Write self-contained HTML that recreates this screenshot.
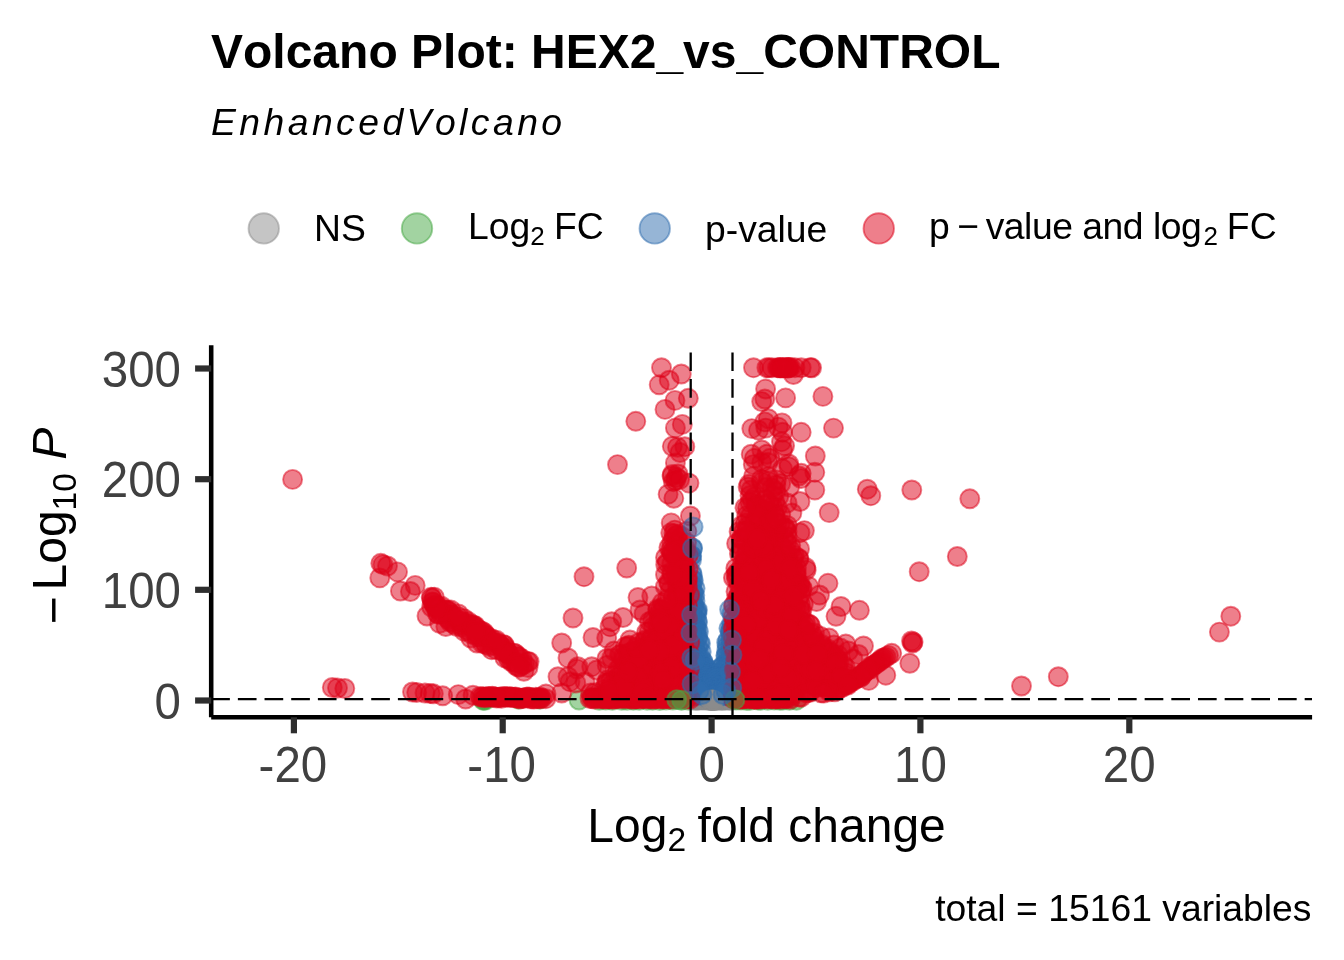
<!DOCTYPE html>
<html><head><meta charset="utf-8"><title>Volcano Plot: HEX2_vs_CONTROL</title>
<style>
html,body{margin:0;padding:0;background:#fff;}
body{width:1344px;height:960px;overflow:hidden;font-family:"Liberation Sans",Arial,Helvetica,sans-serif;}
svg{display:block;}
svg text{font-family:"Liberation Sans",Arial,Helvetica,sans-serif;font-kerning:none;}
.ax{fill:#404040;font-size:48px;}
.r{fill:rgba(221,0,24,.5);stroke:rgba(221,0,24,.5);stroke-width:1.9;}
.b{fill:rgba(46,108,173,.5);stroke:rgba(46,108,173,.5);stroke-width:1.9;}
.g{fill:rgba(70,168,68,.5);stroke:rgba(70,168,68,.5);stroke-width:1.9;}
.n{fill:rgba(140,140,140,.5);stroke:rgba(140,140,140,.5);stroke-width:1.9;}
</style></head>
<body>
<svg width="1344" height="960" viewBox="0 0 1344 960">
<rect width="1344" height="960" fill="#fff"/>
<!-- title -->
<text transform="translate(211,67.6) scale(1,1.015)" font-size="48" font-weight="bold" fill="#000">Volcano Plot: HEX2_vs_CONTROL</text>
<text transform="translate(211,135)" font-size="37.3" font-style="italic" fill="#000" letter-spacing="3.45">EnhancedVolcano</text>
<!-- legend -->
<g id="legend">
<circle class="n" cx="263.75" cy="228.4" r="15.2"/>
<circle class="g" cx="417" cy="228.4" r="15.2"/>
<circle class="b" cx="654.75" cy="228.4" r="15.2"/>
<circle class="r" cx="878.75" cy="228.4" r="15.2"/>
<text transform="translate(314,241.3)" font-size="37.3" fill="#000">NS</text>
<text transform="translate(468,238.7)" font-size="37.3" fill="#000">Log<tspan font-size="26" dy="6">2</tspan><tspan dy="-6" dx="-1"> FC</tspan></text>
<text transform="translate(705,241.5)" font-size="37.3" fill="#000">p-value</text>
<text transform="translate(0,238.7)" font-size="37.3" fill="#000"><tspan x="929">p</tspan><tspan x="957.3">−</tspan><tspan x="985.7" textLength="216" lengthAdjust="spacing">value and log</tspan><tspan x="1203.5" font-size="26" dy="6">2</tspan><tspan x="1216.5" dy="-6"> FC</tspan></text>
</g>
<g class="g"><circle cx="484.0" cy="700.0" r="9.5"/><circle cx="483.0" cy="700.2" r="9.5"/><circle cx="485.5" cy="700.0" r="9.5"/><circle cx="518.7" cy="699.2" r="9.5"/><circle cx="539.6" cy="699.2" r="9.5"/><circle cx="579.0" cy="700.0" r="9.5"/><circle cx="599.2" cy="700.4" r="9.5"/><circle cx="605.7" cy="700.0" r="9.5"/><circle cx="612.3" cy="700.3" r="9.5"/><circle cx="621.7" cy="700.4" r="9.5"/><circle cx="627.1" cy="700.3" r="9.5"/><circle cx="633.3" cy="700.2" r="9.5"/><circle cx="639.1" cy="700.4" r="9.5"/><circle cx="647.1" cy="700.2" r="9.5"/><circle cx="652.6" cy="700.2" r="9.5"/><circle cx="659.7" cy="700.5" r="9.5"/><circle cx="666.0" cy="700.1" r="9.5"/><circle cx="672.8" cy="700.0" r="9.5"/><circle cx="681.2" cy="699.9" r="9.5"/><circle cx="688.5" cy="700.3" r="9.5"/><circle cx="736.1" cy="700.1" r="9.5"/><circle cx="741.0" cy="700.1" r="9.5"/><circle cx="746.7" cy="700.5" r="9.5"/><circle cx="750.1" cy="700.3" r="9.5"/><circle cx="758.0" cy="700.0" r="9.5"/><circle cx="760.5" cy="700.2" r="9.5"/><circle cx="767.8" cy="700.3" r="9.5"/><circle cx="774.2" cy="700.1" r="9.5"/><circle cx="779.9" cy="700.3" r="9.5"/><circle cx="783.1" cy="700.0" r="9.5"/><circle cx="789.4" cy="700.4" r="9.5"/><circle cx="796.5" cy="700.2" r="9.5"/></g>
<g class="n"><circle cx="693.0" cy="700.1" r="9.5"/><circle cx="694.0" cy="699.5" r="9.5"/><circle cx="694.9" cy="699.8" r="9.5"/><circle cx="695.9" cy="700.2" r="9.5"/><circle cx="696.9" cy="699.4" r="9.5"/><circle cx="697.9" cy="700.1" r="9.5"/><circle cx="698.8" cy="700.1" r="9.5"/><circle cx="699.8" cy="699.7" r="9.5"/><circle cx="700.8" cy="699.4" r="9.5"/><circle cx="701.8" cy="699.7" r="9.5"/><circle cx="702.7" cy="699.7" r="9.5"/><circle cx="703.7" cy="700.1" r="9.5"/><circle cx="704.7" cy="699.5" r="9.5"/><circle cx="705.7" cy="699.6" r="9.5"/><circle cx="706.6" cy="700.1" r="9.5"/><circle cx="707.6" cy="699.4" r="9.5"/><circle cx="708.6" cy="700.0" r="9.5"/><circle cx="709.6" cy="699.8" r="9.5"/><circle cx="710.5" cy="699.7" r="9.5"/><circle cx="711.5" cy="699.8" r="9.5"/><circle cx="712.5" cy="699.7" r="9.5"/><circle cx="713.5" cy="700.2" r="9.5"/><circle cx="714.4" cy="700.3" r="9.5"/><circle cx="715.4" cy="700.0" r="9.5"/><circle cx="716.4" cy="700.1" r="9.5"/><circle cx="717.4" cy="700.2" r="9.5"/><circle cx="718.3" cy="699.5" r="9.5"/><circle cx="719.3" cy="699.9" r="9.5"/><circle cx="720.3" cy="699.4" r="9.5"/><circle cx="721.3" cy="700.2" r="9.5"/><circle cx="722.2" cy="700.3" r="9.5"/><circle cx="723.2" cy="699.5" r="9.5"/><circle cx="724.2" cy="699.8" r="9.5"/><circle cx="725.2" cy="700.0" r="9.5"/><circle cx="726.1" cy="699.9" r="9.5"/><circle cx="727.1" cy="699.5" r="9.5"/><circle cx="728.1" cy="699.8" r="9.5"/><circle cx="729.1" cy="699.7" r="9.5"/><circle cx="730.0" cy="700.0" r="9.5"/><circle cx="731.0" cy="700.3" r="9.5"/></g>
<g class="b"><circle cx="692.4" cy="548.5" r="9.5"/><circle cx="691.1" cy="555.5" r="9.5"/><circle cx="691.7" cy="555.9" r="9.5"/><circle cx="691.6" cy="559.8" r="9.5"/><circle cx="691.6" cy="572.6" r="9.5"/><circle cx="692.4" cy="575.1" r="9.5"/><circle cx="692.5" cy="579.5" r="9.5"/><circle cx="693.4" cy="580.4" r="9.5"/><circle cx="691.5" cy="584.3" r="9.5"/><circle cx="695.1" cy="588.3" r="9.5"/><circle cx="692.3" cy="589.3" r="9.5"/><circle cx="692.5" cy="593.7" r="9.5"/><circle cx="693.5" cy="592.9" r="9.5"/><circle cx="691.4" cy="597.1" r="9.5"/><circle cx="694.8" cy="595.3" r="9.5"/><circle cx="691.2" cy="599.1" r="9.5"/><circle cx="695.0" cy="601.1" r="9.5"/><circle cx="693.1" cy="602.2" r="9.5"/><circle cx="694.1" cy="606.5" r="9.5"/><circle cx="693.2" cy="607.8" r="9.5"/><circle cx="697.3" cy="609.7" r="9.5"/><circle cx="695.5" cy="611.7" r="9.5"/><circle cx="697.0" cy="610.8" r="9.5"/><circle cx="691.9" cy="614.4" r="9.5"/><circle cx="697.0" cy="613.4" r="9.5"/><circle cx="692.1" cy="618.3" r="9.5"/><circle cx="695.3" cy="619.2" r="9.5"/><circle cx="692.7" cy="619.9" r="9.5"/><circle cx="697.1" cy="621.0" r="9.5"/><circle cx="691.0" cy="622.4" r="9.5"/><circle cx="693.1" cy="625.1" r="9.5"/><circle cx="697.5" cy="622.4" r="9.5"/><circle cx="694.1" cy="627.9" r="9.5"/><circle cx="695.7" cy="625.5" r="9.5"/><circle cx="694.7" cy="630.9" r="9.5"/><circle cx="696.8" cy="628.8" r="9.5"/><circle cx="693.1" cy="631.2" r="9.5"/><circle cx="696.3" cy="632.4" r="9.5"/><circle cx="698.5" cy="631.4" r="9.5"/><circle cx="691.6" cy="635.8" r="9.5"/><circle cx="693.0" cy="637.5" r="9.5"/><circle cx="697.6" cy="637.0" r="9.5"/><circle cx="691.2" cy="640.3" r="9.5"/><circle cx="697.4" cy="638.3" r="9.5"/><circle cx="691.4" cy="643.5" r="9.5"/><circle cx="693.5" cy="642.0" r="9.5"/><circle cx="699.4" cy="643.0" r="9.5"/><circle cx="692.2" cy="644.7" r="9.5"/><circle cx="694.9" cy="645.1" r="9.5"/><circle cx="700.5" cy="643.4" r="9.5"/><circle cx="691.9" cy="646.6" r="9.5"/><circle cx="694.4" cy="646.9" r="9.5"/><circle cx="697.5" cy="646.8" r="9.5"/><circle cx="691.0" cy="650.5" r="9.5"/><circle cx="695.7" cy="652.0" r="9.5"/><circle cx="701.2" cy="652.0" r="9.5"/><circle cx="691.5" cy="655.0" r="9.5"/><circle cx="695.0" cy="653.6" r="9.5"/><circle cx="698.1" cy="655.4" r="9.5"/><circle cx="694.3" cy="658.1" r="9.5"/><circle cx="695.3" cy="657.1" r="9.5"/><circle cx="700.2" cy="656.4" r="9.5"/><circle cx="692.1" cy="660.0" r="9.5"/><circle cx="695.5" cy="660.4" r="9.5"/><circle cx="697.6" cy="658.8" r="9.5"/><circle cx="702.5" cy="660.7" r="9.5"/><circle cx="691.2" cy="662.0" r="9.5"/><circle cx="695.3" cy="663.7" r="9.5"/><circle cx="700.7" cy="663.1" r="9.5"/><circle cx="702.9" cy="662.0" r="9.5"/><circle cx="695.3" cy="666.2" r="9.5"/><circle cx="699.7" cy="665.8" r="9.5"/><circle cx="700.5" cy="665.5" r="9.5"/><circle cx="705.0" cy="666.0" r="9.5"/><circle cx="694.3" cy="669.6" r="9.5"/><circle cx="695.8" cy="668.2" r="9.5"/><circle cx="700.9" cy="667.9" r="9.5"/><circle cx="704.5" cy="667.7" r="9.5"/><circle cx="706.4" cy="668.3" r="9.5"/><circle cx="693.0" cy="673.9" r="9.5"/><circle cx="697.4" cy="670.7" r="9.5"/><circle cx="701.7" cy="671.0" r="9.5"/><circle cx="705.0" cy="673.4" r="9.5"/><circle cx="709.8" cy="672.1" r="9.5"/><circle cx="692.6" cy="674.4" r="9.5"/><circle cx="694.9" cy="675.8" r="9.5"/><circle cx="701.4" cy="674.5" r="9.5"/><circle cx="701.8" cy="674.0" r="9.5"/><circle cx="706.2" cy="674.9" r="9.5"/><circle cx="711.0" cy="674.3" r="9.5"/><circle cx="694.2" cy="678.2" r="9.5"/><circle cx="697.1" cy="679.8" r="9.5"/><circle cx="701.7" cy="679.7" r="9.5"/><circle cx="706.2" cy="677.0" r="9.5"/><circle cx="707.5" cy="678.4" r="9.5"/><circle cx="692.4" cy="681.1" r="9.5"/><circle cx="697.0" cy="681.4" r="9.5"/><circle cx="699.2" cy="682.6" r="9.5"/><circle cx="702.9" cy="682.9" r="9.5"/><circle cx="705.8" cy="681.6" r="9.5"/><circle cx="709.3" cy="682.7" r="9.5"/><circle cx="692.1" cy="684.0" r="9.5"/><circle cx="695.8" cy="684.0" r="9.5"/><circle cx="698.4" cy="684.7" r="9.5"/><circle cx="703.0" cy="684.1" r="9.5"/><circle cx="704.0" cy="685.2" r="9.5"/><circle cx="707.3" cy="686.0" r="9.5"/><circle cx="710.7" cy="685.2" r="9.5"/><circle cx="693.8" cy="687.2" r="9.5"/><circle cx="697.0" cy="688.8" r="9.5"/><circle cx="698.4" cy="687.4" r="9.5"/><circle cx="704.3" cy="686.9" r="9.5"/><circle cx="705.3" cy="686.7" r="9.5"/><circle cx="709.4" cy="686.4" r="9.5"/><circle cx="691.8" cy="689.2" r="9.5"/><circle cx="695.0" cy="688.8" r="9.5"/><circle cx="698.9" cy="689.6" r="9.5"/><circle cx="700.0" cy="691.8" r="9.5"/><circle cx="705.4" cy="690.8" r="9.5"/><circle cx="708.3" cy="690.3" r="9.5"/><circle cx="691.9" cy="693.5" r="9.5"/><circle cx="696.6" cy="693.1" r="9.5"/><circle cx="698.7" cy="695.0" r="9.5"/><circle cx="704.3" cy="692.1" r="9.5"/><circle cx="706.5" cy="695.0" r="9.5"/><circle cx="710.3" cy="694.5" r="9.5"/><circle cx="695.6" cy="695.7" r="9.5"/><circle cx="706.0" cy="696.9" r="9.5"/><circle cx="710.9" cy="695.6" r="9.5"/><circle cx="731.8" cy="613.6" r="9.5"/><circle cx="731.7" cy="623.7" r="9.5"/><circle cx="728.9" cy="628.3" r="9.5"/><circle cx="731.3" cy="627.4" r="9.5"/><circle cx="730.7" cy="631.5" r="9.5"/><circle cx="730.4" cy="631.7" r="9.5"/><circle cx="731.4" cy="634.8" r="9.5"/><circle cx="727.8" cy="640.2" r="9.5"/><circle cx="726.6" cy="642.6" r="9.5"/><circle cx="730.7" cy="640.7" r="9.5"/><circle cx="727.2" cy="646.1" r="9.5"/><circle cx="731.6" cy="646.2" r="9.5"/><circle cx="731.6" cy="648.7" r="9.5"/><circle cx="726.7" cy="650.7" r="9.5"/><circle cx="726.2" cy="655.6" r="9.5"/><circle cx="731.1" cy="652.7" r="9.5"/><circle cx="725.9" cy="656.0" r="9.5"/><circle cx="728.4" cy="656.6" r="9.5"/><circle cx="727.8" cy="661.6" r="9.5"/><circle cx="730.3" cy="662.0" r="9.5"/><circle cx="725.9" cy="663.9" r="9.5"/><circle cx="729.2" cy="665.0" r="9.5"/><circle cx="720.8" cy="668.2" r="9.5"/><circle cx="723.1" cy="665.2" r="9.5"/><circle cx="728.0" cy="665.9" r="9.5"/><circle cx="731.1" cy="666.4" r="9.5"/><circle cx="719.7" cy="668.7" r="9.5"/><circle cx="725.6" cy="669.3" r="9.5"/><circle cx="728.3" cy="668.8" r="9.5"/><circle cx="717.2" cy="673.3" r="9.5"/><circle cx="721.0" cy="671.1" r="9.5"/><circle cx="723.8" cy="671.1" r="9.5"/><circle cx="727.5" cy="674.1" r="9.5"/><circle cx="730.4" cy="673.9" r="9.5"/><circle cx="715.7" cy="677.0" r="9.5"/><circle cx="716.3" cy="677.0" r="9.5"/><circle cx="722.6" cy="677.2" r="9.5"/><circle cx="725.7" cy="674.6" r="9.5"/><circle cx="726.9" cy="676.1" r="9.5"/><circle cx="731.5" cy="674.0" r="9.5"/><circle cx="712.9" cy="678.1" r="9.5"/><circle cx="717.0" cy="678.7" r="9.5"/><circle cx="717.9" cy="678.2" r="9.5"/><circle cx="724.2" cy="677.6" r="9.5"/><circle cx="726.6" cy="677.7" r="9.5"/><circle cx="728.6" cy="678.6" r="9.5"/><circle cx="713.4" cy="682.4" r="9.5"/><circle cx="717.0" cy="681.7" r="9.5"/><circle cx="722.9" cy="681.1" r="9.5"/><circle cx="726.3" cy="681.8" r="9.5"/><circle cx="728.2" cy="683.4" r="9.5"/><circle cx="731.1" cy="680.2" r="9.5"/><circle cx="715.7" cy="685.7" r="9.5"/><circle cx="720.6" cy="686.3" r="9.5"/><circle cx="724.3" cy="685.1" r="9.5"/><circle cx="727.1" cy="683.9" r="9.5"/><circle cx="731.4" cy="684.6" r="9.5"/><circle cx="712.7" cy="688.0" r="9.5"/><circle cx="719.2" cy="686.3" r="9.5"/><circle cx="722.2" cy="688.2" r="9.5"/><circle cx="726.4" cy="686.3" r="9.5"/><circle cx="726.9" cy="686.9" r="9.5"/><circle cx="730.2" cy="688.7" r="9.5"/><circle cx="713.5" cy="691.2" r="9.5"/><circle cx="717.0" cy="692.3" r="9.5"/><circle cx="718.1" cy="690.6" r="9.5"/><circle cx="722.8" cy="690.0" r="9.5"/><circle cx="727.8" cy="691.7" r="9.5"/><circle cx="728.4" cy="690.8" r="9.5"/><circle cx="715.0" cy="695.2" r="9.5"/><circle cx="719.0" cy="693.2" r="9.5"/><circle cx="721.7" cy="694.0" r="9.5"/><circle cx="725.8" cy="693.7" r="9.5"/><circle cx="729.6" cy="693.9" r="9.5"/><circle cx="732.3" cy="695.1" r="9.5"/><circle cx="712.9" cy="695.7" r="9.5"/><circle cx="719.4" cy="695.3" r="9.5"/><circle cx="723.3" cy="695.7" r="9.5"/><circle cx="726.2" cy="695.6" r="9.5"/></g>
<g class="r"><circle cx="778.6" cy="534.8" r="9.5"/><circle cx="521.6" cy="698.1" r="9.5"/><circle cx="761.7" cy="450.0" r="9.5"/><circle cx="684.2" cy="647.8" r="9.5"/><circle cx="764.0" cy="510.7" r="9.5"/><circle cx="638.0" cy="597.5" r="9.5"/><circle cx="671.3" cy="607.0" r="9.5"/><circle cx="669.2" cy="380.2" r="9.5"/><circle cx="678.8" cy="677.2" r="9.5"/><circle cx="757.5" cy="620.3" r="9.5"/><circle cx="770.2" cy="596.6" r="9.5"/><circle cx="752.1" cy="499.9" r="9.5"/><circle cx="619.4" cy="654.4" r="9.5"/><circle cx="337.5" cy="688.0" r="9.5"/><circle cx="656.3" cy="666.2" r="9.5"/><circle cx="660.1" cy="691.0" r="9.5"/><circle cx="651.7" cy="596.0" r="9.5"/><circle cx="825.0" cy="668.2" r="9.5"/><circle cx="778.1" cy="564.2" r="9.5"/><circle cx="690.4" cy="516.0" r="9.5"/><circle cx="770.0" cy="458.3" r="9.5"/><circle cx="615.8" cy="690.4" r="9.5"/><circle cx="660.1" cy="635.3" r="9.5"/><circle cx="790.5" cy="699.1" r="9.5"/><circle cx="750.8" cy="548.7" r="9.5"/><circle cx="490.8" cy="697.6" r="9.5"/><circle cx="783.3" cy="698.3" r="9.5"/><circle cx="668.9" cy="547.5" r="9.5"/><circle cx="736.1" cy="575.0" r="9.5"/><circle cx="819.6" cy="670.9" r="9.5"/><circle cx="760.5" cy="565.2" r="9.5"/><circle cx="672.5" cy="690.2" r="9.5"/><circle cx="597.8" cy="698.1" r="9.5"/><circle cx="832.4" cy="656.9" r="9.5"/><circle cx="427.0" cy="616.0" r="9.5"/><circle cx="753.3" cy="464.6" r="9.5"/><circle cx="680.2" cy="574.0" r="9.5"/><circle cx="791.2" cy="642.7" r="9.5"/><circle cx="742.6" cy="562.8" r="9.5"/><circle cx="797.4" cy="682.0" r="9.5"/><circle cx="786.3" cy="594.6" r="9.5"/><circle cx="674.3" cy="663.6" r="9.5"/><circle cx="784.0" cy="538.4" r="9.5"/><circle cx="615.6" cy="698.3" r="9.5"/><circle cx="911.5" cy="641.0" r="9.5"/><circle cx="786.7" cy="698.2" r="9.5"/><circle cx="668.9" cy="640.0" r="9.5"/><circle cx="666.9" cy="692.3" r="9.5"/><circle cx="641.7" cy="698.5" r="9.5"/><circle cx="756.1" cy="504.5" r="9.5"/><circle cx="761.7" cy="401.6" r="9.5"/><circle cx="751.3" cy="671.5" r="9.5"/><circle cx="747.9" cy="526.4" r="9.5"/><circle cx="743.3" cy="584.4" r="9.5"/><circle cx="734.3" cy="669.7" r="9.5"/><circle cx="780.3" cy="571.2" r="9.5"/><circle cx="805.8" cy="692.1" r="9.5"/><circle cx="450.7" cy="614.5" r="9.5"/><circle cx="679.7" cy="614.3" r="9.5"/><circle cx="741.4" cy="613.4" r="9.5"/><circle cx="662.4" cy="610.8" r="9.5"/><circle cx="683.5" cy="641.8" r="9.5"/><circle cx="1219.4" cy="632.1" r="9.5"/><circle cx="689.8" cy="642.6" r="9.5"/><circle cx="769.4" cy="618.0" r="9.5"/><circle cx="865.4" cy="671.6" r="9.5"/><circle cx="774.1" cy="539.2" r="9.5"/><circle cx="804.4" cy="530.6" r="9.5"/><circle cx="590.6" cy="693.0" r="9.5"/><circle cx="758.8" cy="524.1" r="9.5"/><circle cx="431.8" cy="598.3" r="9.5"/><circle cx="830.2" cy="652.0" r="9.5"/><circle cx="658.7" cy="614.5" r="9.5"/><circle cx="767.6" cy="584.4" r="9.5"/><circle cx="626.5" cy="698.1" r="9.5"/><circle cx="768.9" cy="530.7" r="9.5"/><circle cx="451.9" cy="621.6" r="9.5"/><circle cx="756.6" cy="673.4" r="9.5"/><circle cx="678.9" cy="567.5" r="9.5"/><circle cx="813.4" cy="679.8" r="9.5"/><circle cx="857.9" cy="677.5" r="9.5"/><circle cx="738.9" cy="627.9" r="9.5"/><circle cx="771.7" cy="690.3" r="9.5"/><circle cx="743.6" cy="667.1" r="9.5"/><circle cx="746.7" cy="515.6" r="9.5"/><circle cx="573.0" cy="618.0" r="9.5"/><circle cx="736.9" cy="572.9" r="9.5"/><circle cx="770.4" cy="667.0" r="9.5"/><circle cx="781.3" cy="659.8" r="9.5"/><circle cx="665.5" cy="557.5" r="9.5"/><circle cx="446.3" cy="610.3" r="9.5"/><circle cx="785.4" cy="626.7" r="9.5"/><circle cx="683.7" cy="597.3" r="9.5"/><circle cx="435.0" cy="606.6" r="9.5"/><circle cx="801.3" cy="697.2" r="9.5"/><circle cx="782.1" cy="577.1" r="9.5"/><circle cx="673.3" cy="481.7" r="9.5"/><circle cx="782.0" cy="422.9" r="9.5"/><circle cx="687.7" cy="619.0" r="9.5"/><circle cx="752.7" cy="595.1" r="9.5"/><circle cx="837.8" cy="659.7" r="9.5"/><circle cx="809.2" cy="676.0" r="9.5"/><circle cx="671.0" cy="639.0" r="9.5"/><circle cx="787.1" cy="641.8" r="9.5"/><circle cx="771.4" cy="629.2" r="9.5"/><circle cx="542.0" cy="698.3" r="9.5"/><circle cx="769.6" cy="694.1" r="9.5"/><circle cx="744.5" cy="571.5" r="9.5"/><circle cx="633.9" cy="698.9" r="9.5"/><circle cx="772.1" cy="571.2" r="9.5"/><circle cx="464.3" cy="631.4" r="9.5"/><circle cx="673.7" cy="538.9" r="9.5"/><circle cx="658.2" cy="697.0" r="9.5"/><circle cx="757.1" cy="573.1" r="9.5"/><circle cx="614.4" cy="698.9" r="9.5"/><circle cx="689.4" cy="669.0" r="9.5"/><circle cx="447.9" cy="610.2" r="9.5"/><circle cx="733.2" cy="628.2" r="9.5"/><circle cx="652.7" cy="619.9" r="9.5"/><circle cx="760.5" cy="698.8" r="9.5"/><circle cx="620.0" cy="698.4" r="9.5"/><circle cx="758.2" cy="594.5" r="9.5"/><circle cx="674.6" cy="620.3" r="9.5"/><circle cx="747.8" cy="587.2" r="9.5"/><circle cx="870.9" cy="666.2" r="9.5"/><circle cx="766.5" cy="572.1" r="9.5"/><circle cx="615.6" cy="675.3" r="9.5"/><circle cx="437.0" cy="606.0" r="9.5"/><circle cx="774.7" cy="585.7" r="9.5"/><circle cx="503.1" cy="696.8" r="9.5"/><circle cx="919.2" cy="571.7" r="9.5"/><circle cx="627.7" cy="653.5" r="9.5"/><circle cx="506.2" cy="697.0" r="9.5"/><circle cx="757.9" cy="644.4" r="9.5"/><circle cx="670.4" cy="628.2" r="9.5"/><circle cx="679.0" cy="648.0" r="9.5"/><circle cx="829.2" cy="512.6" r="9.5"/><circle cx="801.2" cy="638.1" r="9.5"/><circle cx="477.0" cy="636.5" r="9.5"/><circle cx="680.0" cy="631.6" r="9.5"/><circle cx="816.5" cy="601.5" r="9.5"/><circle cx="651.2" cy="656.2" r="9.5"/><circle cx="594.7" cy="692.8" r="9.5"/><circle cx="756.4" cy="629.0" r="9.5"/><circle cx="690.4" cy="698.8" r="9.5"/><circle cx="665.4" cy="586.7" r="9.5"/><circle cx="655.4" cy="685.8" r="9.5"/><circle cx="681.4" cy="561.6" r="9.5"/><circle cx="738.2" cy="688.2" r="9.5"/><circle cx="660.9" cy="617.8" r="9.5"/><circle cx="771.7" cy="611.4" r="9.5"/><circle cx="677.9" cy="600.5" r="9.5"/><circle cx="508.5" cy="659.1" r="9.5"/><circle cx="773.6" cy="519.4" r="9.5"/><circle cx="509.3" cy="696.7" r="9.5"/><circle cx="761.2" cy="630.7" r="9.5"/><circle cx="657.5" cy="635.6" r="9.5"/><circle cx="760.0" cy="693.4" r="9.5"/><circle cx="468.0" cy="621.4" r="9.5"/><circle cx="448.8" cy="619.6" r="9.5"/><circle cx="501.2" cy="646.2" r="9.5"/><circle cx="786.7" cy="625.0" r="9.5"/><circle cx="662.3" cy="698.2" r="9.5"/><circle cx="630.1" cy="698.2" r="9.5"/><circle cx="387.5" cy="566.0" r="9.5"/><circle cx="670.7" cy="684.7" r="9.5"/><circle cx="786.0" cy="367.4" r="9.5"/><circle cx="505.6" cy="648.3" r="9.5"/><circle cx="629.1" cy="688.0" r="9.5"/><circle cx="772.5" cy="643.6" r="9.5"/><circle cx="475.3" cy="625.8" r="9.5"/><circle cx="838.0" cy="655.0" r="9.5"/><circle cx="622.4" cy="698.6" r="9.5"/><circle cx="686.6" cy="542.6" r="9.5"/><circle cx="745.4" cy="523.1" r="9.5"/><circle cx="788.2" cy="572.5" r="9.5"/><circle cx="522.1" cy="659.0" r="9.5"/><circle cx="623.0" cy="617.5" r="9.5"/><circle cx="815.6" cy="644.1" r="9.5"/><circle cx="748.2" cy="620.7" r="9.5"/><circle cx="766.9" cy="658.4" r="9.5"/><circle cx="500.0" cy="696.9" r="9.5"/><circle cx="786.2" cy="580.3" r="9.5"/><circle cx="787.7" cy="558.9" r="9.5"/><circle cx="751.8" cy="542.1" r="9.5"/><circle cx="749.2" cy="598.9" r="9.5"/><circle cx="744.5" cy="631.8" r="9.5"/><circle cx="801.8" cy="610.9" r="9.5"/><circle cx="665.1" cy="672.5" r="9.5"/><circle cx="866.9" cy="670.4" r="9.5"/><circle cx="637.1" cy="676.6" r="9.5"/><circle cx="669.2" cy="648.9" r="9.5"/><circle cx="767.3" cy="698.9" r="9.5"/><circle cx="761.0" cy="521.0" r="9.5"/><circle cx="801.2" cy="473.3" r="9.5"/><circle cx="794.4" cy="615.6" r="9.5"/><circle cx="804.3" cy="625.3" r="9.5"/><circle cx="745.2" cy="672.9" r="9.5"/><circle cx="856.3" cy="678.3" r="9.5"/><circle cx="465.8" cy="622.6" r="9.5"/><circle cx="786.3" cy="550.7" r="9.5"/><circle cx="627.6" cy="698.5" r="9.5"/><circle cx="676.1" cy="573.2" r="9.5"/><circle cx="756.6" cy="539.2" r="9.5"/><circle cx="752.2" cy="594.0" r="9.5"/><circle cx="854.9" cy="679.6" r="9.5"/><circle cx="757.7" cy="585.4" r="9.5"/><circle cx="607.4" cy="682.5" r="9.5"/><circle cx="677.7" cy="636.3" r="9.5"/><circle cx="750.1" cy="566.4" r="9.5"/><circle cx="763.5" cy="677.9" r="9.5"/><circle cx="761.4" cy="648.8" r="9.5"/><circle cx="659.2" cy="655.6" r="9.5"/><circle cx="640.4" cy="698.8" r="9.5"/><circle cx="796.9" cy="650.7" r="9.5"/><circle cx="767.8" cy="561.8" r="9.5"/><circle cx="738.5" cy="595.3" r="9.5"/><circle cx="561.7" cy="643.0" r="9.5"/><circle cx="470.8" cy="638.0" r="9.5"/><circle cx="500.0" cy="645.8" r="9.5"/><circle cx="798.6" cy="558.8" r="9.5"/><circle cx="675.6" cy="640.2" r="9.5"/><circle cx="431.6" cy="607.0" r="9.5"/><circle cx="741.8" cy="525.4" r="9.5"/><circle cx="664.7" cy="662.6" r="9.5"/><circle cx="681.3" cy="601.8" r="9.5"/><circle cx="812.3" cy="664.2" r="9.5"/><circle cx="812.1" cy="674.8" r="9.5"/><circle cx="748.7" cy="534.5" r="9.5"/><circle cx="823.1" cy="658.3" r="9.5"/><circle cx="642.3" cy="651.5" r="9.5"/><circle cx="848.1" cy="682.9" r="9.5"/><circle cx="733.3" cy="616.7" r="9.5"/><circle cx="826.9" cy="650.8" r="9.5"/><circle cx="774.9" cy="545.7" r="9.5"/><circle cx="784.6" cy="445.8" r="9.5"/><circle cx="596.7" cy="670.0" r="9.5"/><circle cx="739.7" cy="606.4" r="9.5"/><circle cx="686.7" cy="636.1" r="9.5"/><circle cx="780.0" cy="589.8" r="9.5"/><circle cx="804.9" cy="682.1" r="9.5"/><circle cx="662.8" cy="632.6" r="9.5"/><circle cx="663.8" cy="606.9" r="9.5"/><circle cx="780.6" cy="627.0" r="9.5"/><circle cx="665.7" cy="564.7" r="9.5"/><circle cx="683.4" cy="675.0" r="9.5"/><circle cx="758.5" cy="430.2" r="9.5"/><circle cx="772.6" cy="506.8" r="9.5"/><circle cx="747.3" cy="614.6" r="9.5"/><circle cx="568.0" cy="676.7" r="9.5"/><circle cx="646.4" cy="670.1" r="9.5"/><circle cx="670.3" cy="669.7" r="9.5"/><circle cx="793.8" cy="654.7" r="9.5"/><circle cx="793.1" cy="557.8" r="9.5"/><circle cx="568.0" cy="658.0" r="9.5"/><circle cx="665.5" cy="574.7" r="9.5"/><circle cx="670.5" cy="658.1" r="9.5"/><circle cx="796.4" cy="576.9" r="9.5"/><circle cx="759.0" cy="606.7" r="9.5"/><circle cx="461.4" cy="624.8" r="9.5"/><circle cx="665.6" cy="698.3" r="9.5"/><circle cx="912.5" cy="643.0" r="9.5"/><circle cx="787.4" cy="368.0" r="9.5"/><circle cx="877.5" cy="662.2" r="9.5"/><circle cx="843.1" cy="665.0" r="9.5"/><circle cx="682.5" cy="691.1" r="9.5"/><circle cx="509.5" cy="655.6" r="9.5"/><circle cx="765.0" cy="500.7" r="9.5"/><circle cx="758.3" cy="582.4" r="9.5"/><circle cx="754.6" cy="581.8" r="9.5"/><circle cx="794.4" cy="555.4" r="9.5"/><circle cx="467.4" cy="624.5" r="9.5"/><circle cx="842.5" cy="684.7" r="9.5"/><circle cx="600.3" cy="698.7" r="9.5"/><circle cx="767.5" cy="594.0" r="9.5"/><circle cx="800.5" cy="613.4" r="9.5"/><circle cx="790.1" cy="676.4" r="9.5"/><circle cx="628.7" cy="659.7" r="9.5"/><circle cx="683.5" cy="565.8" r="9.5"/><circle cx="792.5" cy="588.3" r="9.5"/><circle cx="828.0" cy="583.3" r="9.5"/><circle cx="575.8" cy="683.0" r="9.5"/><circle cx="441.6" cy="606.2" r="9.5"/><circle cx="650.2" cy="698.3" r="9.5"/><circle cx="782.4" cy="367.9" r="9.5"/><circle cx="680.6" cy="549.5" r="9.5"/><circle cx="790.9" cy="623.4" r="9.5"/><circle cx="741.2" cy="588.3" r="9.5"/><circle cx="664.7" cy="634.4" r="9.5"/><circle cx="742.9" cy="548.7" r="9.5"/><circle cx="736.8" cy="598.6" r="9.5"/><circle cx="669.3" cy="696.5" r="9.5"/><circle cx="769.5" cy="582.0" r="9.5"/><circle cx="783.0" cy="592.2" r="9.5"/><circle cx="750.3" cy="554.0" r="9.5"/><circle cx="665.7" cy="614.9" r="9.5"/><circle cx="485.5" cy="634.7" r="9.5"/><circle cx="760.3" cy="553.9" r="9.5"/><circle cx="537.3" cy="698.5" r="9.5"/><circle cx="680.3" cy="668.8" r="9.5"/><circle cx="735.5" cy="629.9" r="9.5"/><circle cx="518.4" cy="698.5" r="9.5"/><circle cx="677.2" cy="583.1" r="9.5"/><circle cx="798.9" cy="558.5" r="9.5"/><circle cx="610.7" cy="681.3" r="9.5"/><circle cx="777.4" cy="689.9" r="9.5"/><circle cx="739.6" cy="570.3" r="9.5"/><circle cx="776.4" cy="479.9" r="9.5"/><circle cx="680.1" cy="698.5" r="9.5"/><circle cx="789.6" cy="487.1" r="9.5"/><circle cx="482.6" cy="643.5" r="9.5"/><circle cx="806.5" cy="692.9" r="9.5"/><circle cx="661.6" cy="659.2" r="9.5"/><circle cx="846.5" cy="673.1" r="9.5"/><circle cx="614.1" cy="651.0" r="9.5"/><circle cx="632.1" cy="699.0" r="9.5"/><circle cx="670.0" cy="699.1" r="9.5"/><circle cx="767.9" cy="645.1" r="9.5"/><circle cx="770.8" cy="659.7" r="9.5"/><circle cx="638.0" cy="655.2" r="9.5"/><circle cx="415.2" cy="585.4" r="9.5"/><circle cx="810.4" cy="625.3" r="9.5"/><circle cx="466.7" cy="630.0" r="9.5"/><circle cx="834.9" cy="684.4" r="9.5"/><circle cx="591.7" cy="666.7" r="9.5"/><circle cx="746.6" cy="635.7" r="9.5"/><circle cx="616.7" cy="696.3" r="9.5"/><circle cx="738.6" cy="698.5" r="9.5"/><circle cx="801.2" cy="367.7" r="9.5"/><circle cx="503.6" cy="644.6" r="9.5"/><circle cx="667.4" cy="562.6" r="9.5"/><circle cx="779.4" cy="542.0" r="9.5"/><circle cx="773.8" cy="653.3" r="9.5"/><circle cx="604.4" cy="698.9" r="9.5"/><circle cx="787.7" cy="614.3" r="9.5"/><circle cx="763.4" cy="605.9" r="9.5"/><circle cx="636.8" cy="697.3" r="9.5"/><circle cx="782.4" cy="551.1" r="9.5"/><circle cx="790.5" cy="367.4" r="9.5"/><circle cx="642.0" cy="648.5" r="9.5"/><circle cx="658.6" cy="628.1" r="9.5"/><circle cx="843.1" cy="685.5" r="9.5"/><circle cx="479.5" cy="630.4" r="9.5"/><circle cx="675.1" cy="692.0" r="9.5"/><circle cx="759.5" cy="509.1" r="9.5"/><circle cx="768.0" cy="511.2" r="9.5"/><circle cx="782.5" cy="605.5" r="9.5"/><circle cx="736.2" cy="677.6" r="9.5"/><circle cx="750.2" cy="563.5" r="9.5"/><circle cx="734.3" cy="620.7" r="9.5"/><circle cx="736.1" cy="670.3" r="9.5"/><circle cx="631.9" cy="680.6" r="9.5"/><circle cx="752.2" cy="638.8" r="9.5"/><circle cx="765.1" cy="544.5" r="9.5"/><circle cx="782.0" cy="648.7" r="9.5"/><circle cx="769.3" cy="674.8" r="9.5"/><circle cx="491.8" cy="644.9" r="9.5"/><circle cx="790.5" cy="550.3" r="9.5"/><circle cx="786.0" cy="602.4" r="9.5"/><circle cx="833.3" cy="663.3" r="9.5"/><circle cx="743.8" cy="531.3" r="9.5"/><circle cx="678.0" cy="659.3" r="9.5"/><circle cx="879.6" cy="661.7" r="9.5"/><circle cx="798.9" cy="626.9" r="9.5"/><circle cx="813.0" cy="684.8" r="9.5"/><circle cx="504.9" cy="657.9" r="9.5"/><circle cx="750.5" cy="694.5" r="9.5"/><circle cx="838.9" cy="662.5" r="9.5"/><circle cx="810.2" cy="367.6" r="9.5"/><circle cx="603.8" cy="689.4" r="9.5"/><circle cx="660.4" cy="609.3" r="9.5"/><circle cx="675.5" cy="671.2" r="9.5"/><circle cx="737.3" cy="657.4" r="9.5"/><circle cx="531.0" cy="698.9" r="9.5"/><circle cx="772.6" cy="698.9" r="9.5"/><circle cx="611.7" cy="684.6" r="9.5"/><circle cx="487.7" cy="696.7" r="9.5"/><circle cx="761.5" cy="636.7" r="9.5"/><circle cx="787.2" cy="582.9" r="9.5"/><circle cx="761.9" cy="590.7" r="9.5"/><circle cx="800.2" cy="667.5" r="9.5"/><circle cx="876.3" cy="663.8" r="9.5"/><circle cx="671.7" cy="571.9" r="9.5"/><circle cx="762.6" cy="687.5" r="9.5"/><circle cx="798.1" cy="599.2" r="9.5"/><circle cx="913.1" cy="641.9" r="9.5"/><circle cx="784.5" cy="691.9" r="9.5"/><circle cx="658.0" cy="653.5" r="9.5"/><circle cx="674.0" cy="630.8" r="9.5"/><circle cx="764.7" cy="532.8" r="9.5"/><circle cx="868.8" cy="680.4" r="9.5"/><circle cx="739.7" cy="698.9" r="9.5"/><circle cx="754.7" cy="699.1" r="9.5"/><circle cx="779.9" cy="643.9" r="9.5"/><circle cx="673.9" cy="533.6" r="9.5"/><circle cx="687.3" cy="630.6" r="9.5"/><circle cx="800.0" cy="501.5" r="9.5"/><circle cx="623.4" cy="656.7" r="9.5"/><circle cx="400.4" cy="591.0" r="9.5"/><circle cx="783.5" cy="599.2" r="9.5"/><circle cx="618.5" cy="698.6" r="9.5"/><circle cx="750.9" cy="683.6" r="9.5"/><circle cx="643.1" cy="695.0" r="9.5"/><circle cx="687.5" cy="586.2" r="9.5"/><circle cx="801.7" cy="588.7" r="9.5"/><circle cx="672.0" cy="476.0" r="9.5"/><circle cx="432.3" cy="601.9" r="9.5"/><circle cx="780.8" cy="680.1" r="9.5"/><circle cx="774.2" cy="594.9" r="9.5"/><circle cx="777.2" cy="618.7" r="9.5"/><circle cx="640.0" cy="610.0" r="9.5"/><circle cx="738.9" cy="635.7" r="9.5"/><circle cx="836.0" cy="616.3" r="9.5"/><circle cx="787.1" cy="531.7" r="9.5"/><circle cx="743.2" cy="679.1" r="9.5"/><circle cx="795.3" cy="683.7" r="9.5"/><circle cx="746.9" cy="552.3" r="9.5"/><circle cx="742.6" cy="552.9" r="9.5"/><circle cx="653.9" cy="678.2" r="9.5"/><circle cx="766.9" cy="454.2" r="9.5"/><circle cx="675.5" cy="480.5" r="9.5"/><circle cx="768.1" cy="518.0" r="9.5"/><circle cx="688.3" cy="569.0" r="9.5"/><circle cx="766.8" cy="688.8" r="9.5"/><circle cx="676.8" cy="682.3" r="9.5"/><circle cx="585.0" cy="681.7" r="9.5"/><circle cx="681.5" cy="536.2" r="9.5"/><circle cx="797.1" cy="666.4" r="9.5"/><circle cx="638.9" cy="642.7" r="9.5"/><circle cx="802.6" cy="682.7" r="9.5"/><circle cx="808.4" cy="666.0" r="9.5"/><circle cx="735.5" cy="678.8" r="9.5"/><circle cx="736.6" cy="578.9" r="9.5"/><circle cx="784.5" cy="528.0" r="9.5"/><circle cx="759.5" cy="525.9" r="9.5"/><circle cx="540.0" cy="697.0" r="9.5"/><circle cx="810.1" cy="692.3" r="9.5"/><circle cx="775.9" cy="485.1" r="9.5"/><circle cx="791.5" cy="599.4" r="9.5"/><circle cx="645.2" cy="639.9" r="9.5"/><circle cx="675.7" cy="673.8" r="9.5"/><circle cx="440.6" cy="613.7" r="9.5"/><circle cx="416.7" cy="692.5" r="9.5"/><circle cx="783.3" cy="569.4" r="9.5"/><circle cx="687.6" cy="688.7" r="9.5"/><circle cx="626.7" cy="568.0" r="9.5"/><circle cx="744.5" cy="563.3" r="9.5"/><circle cx="751.2" cy="558.9" r="9.5"/><circle cx="681.7" cy="589.1" r="9.5"/><circle cx="643.1" cy="660.7" r="9.5"/><circle cx="784.9" cy="698.6" r="9.5"/><circle cx="911.8" cy="490.0" r="9.5"/><circle cx="666.0" cy="665.6" r="9.5"/><circle cx="681.3" cy="374.0" r="9.5"/><circle cx="774.9" cy="502.1" r="9.5"/><circle cx="736.0" cy="591.5" r="9.5"/><circle cx="744.9" cy="561.3" r="9.5"/><circle cx="667.5" cy="698.3" r="9.5"/><circle cx="798.5" cy="670.2" r="9.5"/><circle cx="750.9" cy="620.1" r="9.5"/><circle cx="744.3" cy="671.5" r="9.5"/><circle cx="648.3" cy="680.6" r="9.5"/><circle cx="652.9" cy="665.1" r="9.5"/><circle cx="858.5" cy="654.5" r="9.5"/><circle cx="786.9" cy="555.6" r="9.5"/><circle cx="787.3" cy="525.4" r="9.5"/><circle cx="764.8" cy="399.0" r="9.5"/><circle cx="516.9" cy="697.4" r="9.5"/><circle cx="472.0" cy="626.3" r="9.5"/><circle cx="786.8" cy="542.2" r="9.5"/><circle cx="842.1" cy="687.5" r="9.5"/><circle cx="379.8" cy="577.9" r="9.5"/><circle cx="483.1" cy="696.6" r="9.5"/><circle cx="767.9" cy="536.5" r="9.5"/><circle cx="675.2" cy="665.9" r="9.5"/><circle cx="680.0" cy="452.5" r="9.5"/><circle cx="606.9" cy="658.5" r="9.5"/><circle cx="630.6" cy="687.1" r="9.5"/><circle cx="632.9" cy="692.7" r="9.5"/><circle cx="749.2" cy="680.4" r="9.5"/><circle cx="618.1" cy="677.1" r="9.5"/><circle cx="969.8" cy="498.8" r="9.5"/><circle cx="827.6" cy="649.0" r="9.5"/><circle cx="682.3" cy="424.4" r="9.5"/><circle cx="763.0" cy="698.5" r="9.5"/><circle cx="682.2" cy="659.2" r="9.5"/><circle cx="677.9" cy="586.9" r="9.5"/><circle cx="767.8" cy="575.8" r="9.5"/><circle cx="498.5" cy="697.5" r="9.5"/><circle cx="646.1" cy="698.7" r="9.5"/><circle cx="688.9" cy="679.4" r="9.5"/><circle cx="814.5" cy="632.9" r="9.5"/><circle cx="749.8" cy="603.9" r="9.5"/><circle cx="806.2" cy="570.0" r="9.5"/><circle cx="754.8" cy="662.6" r="9.5"/><circle cx="734.3" cy="650.6" r="9.5"/><circle cx="819.6" cy="677.5" r="9.5"/><circle cx="650.9" cy="638.5" r="9.5"/><circle cx="689.3" cy="654.1" r="9.5"/><circle cx="758.5" cy="682.2" r="9.5"/><circle cx="686.8" cy="683.8" r="9.5"/><circle cx="669.8" cy="616.6" r="9.5"/><circle cx="740.5" cy="643.9" r="9.5"/><circle cx="687.7" cy="698.4" r="9.5"/><circle cx="684.8" cy="446.7" r="9.5"/><circle cx="670.8" cy="532.9" r="9.5"/><circle cx="834.6" cy="689.1" r="9.5"/><circle cx="746.4" cy="589.1" r="9.5"/><circle cx="781.9" cy="554.9" r="9.5"/><circle cx="647.9" cy="674.4" r="9.5"/><circle cx="807.7" cy="653.7" r="9.5"/><circle cx="768.0" cy="462.5" r="9.5"/><circle cx="769.0" cy="678.7" r="9.5"/><circle cx="687.5" cy="606.1" r="9.5"/><circle cx="507.7" cy="697.4" r="9.5"/><circle cx="757.3" cy="698.3" r="9.5"/><circle cx="766.1" cy="630.0" r="9.5"/><circle cx="802.4" cy="658.9" r="9.5"/><circle cx="768.2" cy="656.1" r="9.5"/><circle cx="783.5" cy="620.6" r="9.5"/><circle cx="774.8" cy="515.1" r="9.5"/><circle cx="504.6" cy="696.4" r="9.5"/><circle cx="780.7" cy="483.6" r="9.5"/><circle cx="740.8" cy="639.6" r="9.5"/><circle cx="644.8" cy="687.9" r="9.5"/><circle cx="488.9" cy="638.2" r="9.5"/><circle cx="776.9" cy="523.4" r="9.5"/><circle cx="799.1" cy="658.3" r="9.5"/><circle cx="773.4" cy="686.9" r="9.5"/><circle cx="779.1" cy="367.7" r="9.5"/><circle cx="653.8" cy="699.1" r="9.5"/><circle cx="841.0" cy="606.5" r="9.5"/><circle cx="775.2" cy="650.6" r="9.5"/><circle cx="522.3" cy="665.0" r="9.5"/><circle cx="808.3" cy="639.7" r="9.5"/><circle cx="676.0" cy="607.1" r="9.5"/><circle cx="507.3" cy="652.4" r="9.5"/><circle cx="450.1" cy="622.0" r="9.5"/><circle cx="644.0" cy="698.4" r="9.5"/><circle cx="650.8" cy="672.2" r="9.5"/><circle cx="797.3" cy="641.7" r="9.5"/><circle cx="853.4" cy="680.8" r="9.5"/><circle cx="593.0" cy="637.5" r="9.5"/><circle cx="790.6" cy="690.0" r="9.5"/><circle cx="829.0" cy="638.0" r="9.5"/><circle cx="651.6" cy="698.9" r="9.5"/><circle cx="620.0" cy="667.5" r="9.5"/><circle cx="772.2" cy="585.0" r="9.5"/><circle cx="753.8" cy="603.7" r="9.5"/><circle cx="805.4" cy="622.5" r="9.5"/><circle cx="753.5" cy="564.1" r="9.5"/><circle cx="759.8" cy="520.2" r="9.5"/><circle cx="828.4" cy="673.5" r="9.5"/><circle cx="510.8" cy="696.9" r="9.5"/><circle cx="628.7" cy="646.3" r="9.5"/><circle cx="678.4" cy="698.1" r="9.5"/><circle cx="746.3" cy="684.8" r="9.5"/><circle cx="794.0" cy="605.0" r="9.5"/><circle cx="761.7" cy="462.5" r="9.5"/><circle cx="774.3" cy="555.2" r="9.5"/><circle cx="778.1" cy="596.1" r="9.5"/><circle cx="646.6" cy="632.2" r="9.5"/><circle cx="625.3" cy="646.6" r="9.5"/><circle cx="799.8" cy="609.5" r="9.5"/><circle cx="678.2" cy="541.3" r="9.5"/><circle cx="744.6" cy="643.3" r="9.5"/><circle cx="648.8" cy="688.4" r="9.5"/><circle cx="680.3" cy="680.9" r="9.5"/><circle cx="825.9" cy="681.1" r="9.5"/><circle cx="780.8" cy="639.4" r="9.5"/><circle cx="657.0" cy="669.3" r="9.5"/><circle cx="674.3" cy="698.3" r="9.5"/><circle cx="684.5" cy="606.9" r="9.5"/><circle cx="687.6" cy="578.1" r="9.5"/><circle cx="611.7" cy="621.7" r="9.5"/><circle cx="828.8" cy="663.3" r="9.5"/><circle cx="819.5" cy="595.0" r="9.5"/><circle cx="662.3" cy="695.7" r="9.5"/><circle cx="778.3" cy="427.1" r="9.5"/><circle cx="751.8" cy="428.6" r="9.5"/><circle cx="759.3" cy="639.7" r="9.5"/><circle cx="619.4" cy="680.0" r="9.5"/><circle cx="770.0" cy="553.2" r="9.5"/><circle cx="633.9" cy="671.5" r="9.5"/><circle cx="670.2" cy="590.5" r="9.5"/><circle cx="630.2" cy="659.6" r="9.5"/><circle cx="501.5" cy="698.2" r="9.5"/><circle cx="754.8" cy="496.8" r="9.5"/><circle cx="797.0" cy="634.4" r="9.5"/><circle cx="750.8" cy="611.0" r="9.5"/><circle cx="792.8" cy="567.9" r="9.5"/><circle cx="758.4" cy="572.9" r="9.5"/><circle cx="682.3" cy="584.1" r="9.5"/><circle cx="679.4" cy="622.1" r="9.5"/><circle cx="793.3" cy="634.9" r="9.5"/><circle cx="772.5" cy="671.2" r="9.5"/><circle cx="799.1" cy="587.0" r="9.5"/><circle cx="788.7" cy="698.4" r="9.5"/><circle cx="834.0" cy="681.4" r="9.5"/><circle cx="775.2" cy="603.8" r="9.5"/><circle cx="744.8" cy="602.8" r="9.5"/><circle cx="382.9" cy="564.6" r="9.5"/><circle cx="750.1" cy="502.6" r="9.5"/><circle cx="740.4" cy="623.6" r="9.5"/><circle cx="753.5" cy="367.7" r="9.5"/><circle cx="740.7" cy="692.4" r="9.5"/><circle cx="792.7" cy="667.1" r="9.5"/><circle cx="755.1" cy="601.3" r="9.5"/><circle cx="768.8" cy="538.6" r="9.5"/><circle cx="529.5" cy="697.1" r="9.5"/><circle cx="1230.8" cy="616.2" r="9.5"/><circle cx="829.9" cy="671.7" r="9.5"/><circle cx="509.1" cy="654.0" r="9.5"/><circle cx="777.5" cy="367.7" r="9.5"/><circle cx="685.9" cy="620.9" r="9.5"/><circle cx="829.3" cy="691.8" r="9.5"/><circle cx="800.0" cy="586.7" r="9.5"/><circle cx="758.1" cy="691.6" r="9.5"/><circle cx="741.1" cy="678.1" r="9.5"/><circle cx="682.3" cy="698.4" r="9.5"/><circle cx="870.8" cy="495.7" r="9.5"/><circle cx="675.9" cy="555.2" r="9.5"/><circle cx="741.4" cy="539.5" r="9.5"/><circle cx="764.8" cy="421.9" r="9.5"/><circle cx="800.2" cy="604.2" r="9.5"/><circle cx="787.5" cy="685.5" r="9.5"/><circle cx="733.5" cy="647.0" r="9.5"/><circle cx="801.2" cy="432.3" r="9.5"/><circle cx="661.5" cy="367.7" r="9.5"/><circle cx="823.4" cy="680.0" r="9.5"/><circle cx="558.0" cy="676.7" r="9.5"/><circle cx="788.0" cy="562.5" r="9.5"/><circle cx="809.0" cy="691.8" r="9.5"/><circle cx="743.9" cy="653.4" r="9.5"/><circle cx="677.7" cy="534.4" r="9.5"/><circle cx="789.2" cy="685.1" r="9.5"/><circle cx="584.0" cy="576.7" r="9.5"/><circle cx="757.8" cy="585.2" r="9.5"/><circle cx="483.1" cy="636.1" r="9.5"/><circle cx="676.4" cy="630.2" r="9.5"/><circle cx="799.0" cy="476.0" r="9.5"/><circle cx="456.1" cy="626.2" r="9.5"/><circle cx="835.4" cy="656.2" r="9.5"/><circle cx="671.8" cy="698.4" r="9.5"/><circle cx="617.7" cy="669.7" r="9.5"/><circle cx="799.2" cy="697.0" r="9.5"/><circle cx="880.8" cy="660.1" r="9.5"/><circle cx="649.8" cy="647.3" r="9.5"/><circle cx="607.2" cy="665.2" r="9.5"/><circle cx="872.8" cy="665.6" r="9.5"/><circle cx="655.6" cy="663.3" r="9.5"/><circle cx="561.7" cy="693.0" r="9.5"/><circle cx="799.5" cy="549.0" r="9.5"/><circle cx="644.0" cy="613.7" r="9.5"/><circle cx="489.4" cy="646.3" r="9.5"/><circle cx="756.1" cy="699.1" r="9.5"/><circle cx="644.8" cy="641.4" r="9.5"/><circle cx="746.6" cy="698.5" r="9.5"/><circle cx="805.1" cy="678.0" r="9.5"/><circle cx="799.3" cy="624.1" r="9.5"/><circle cx="670.1" cy="682.7" r="9.5"/><circle cx="803.4" cy="604.1" r="9.5"/><circle cx="760.6" cy="612.6" r="9.5"/><circle cx="748.1" cy="487.0" r="9.5"/><circle cx="657.9" cy="610.1" r="9.5"/><circle cx="785.7" cy="658.8" r="9.5"/><circle cx="669.0" cy="625.2" r="9.5"/><circle cx="578.0" cy="666.7" r="9.5"/><circle cx="750.0" cy="495.5" r="9.5"/><circle cx="753.0" cy="596.9" r="9.5"/><circle cx="778.5" cy="698.2" r="9.5"/><circle cx="753.4" cy="644.5" r="9.5"/><circle cx="862.4" cy="674.0" r="9.5"/><circle cx="838.2" cy="688.1" r="9.5"/><circle cx="685.6" cy="628.4" r="9.5"/><circle cx="778.9" cy="658.6" r="9.5"/><circle cx="860.4" cy="677.5" r="9.5"/><circle cx="884.0" cy="658.0" r="9.5"/><circle cx="636.1" cy="698.7" r="9.5"/><circle cx="636.2" cy="650.6" r="9.5"/><circle cx="777.5" cy="561.4" r="9.5"/><circle cx="747.5" cy="508.0" r="9.5"/><circle cx="592.1" cy="697.3" r="9.5"/><circle cx="673.0" cy="554.7" r="9.5"/><circle cx="687.3" cy="661.6" r="9.5"/><circle cx="685.6" cy="551.5" r="9.5"/><circle cx="748.5" cy="688.3" r="9.5"/><circle cx="447.3" cy="617.5" r="9.5"/><circle cx="815.3" cy="456.0" r="9.5"/><circle cx="465.6" cy="699.0" r="9.5"/><circle cx="753.7" cy="615.5" r="9.5"/><circle cx="768.6" cy="625.1" r="9.5"/><circle cx="678.0" cy="474.0" r="9.5"/><circle cx="783.3" cy="624.4" r="9.5"/><circle cx="850.0" cy="682.4" r="9.5"/><circle cx="671.6" cy="552.2" r="9.5"/><circle cx="686.0" cy="699.1" r="9.5"/><circle cx="513.8" cy="697.8" r="9.5"/><circle cx="632.3" cy="676.3" r="9.5"/><circle cx="735.8" cy="568.2" r="9.5"/><circle cx="745.5" cy="646.8" r="9.5"/><circle cx="859.4" cy="610.3" r="9.5"/><circle cx="673.1" cy="597.1" r="9.5"/><circle cx="799.3" cy="633.1" r="9.5"/><circle cx="528.0" cy="667.5" r="9.5"/><circle cx="661.0" cy="640.8" r="9.5"/><circle cx="748.3" cy="693.5" r="9.5"/><circle cx="683.0" cy="548.8" r="9.5"/><circle cx="794.6" cy="647.1" r="9.5"/><circle cx="794.1" cy="689.6" r="9.5"/><circle cx="775.8" cy="491.5" r="9.5"/><circle cx="795.1" cy="580.4" r="9.5"/><circle cx="677.1" cy="597.3" r="9.5"/><circle cx="689.0" cy="483.1" r="9.5"/><circle cx="660.7" cy="671.5" r="9.5"/><circle cx="776.3" cy="678.9" r="9.5"/><circle cx="834.0" cy="645.0" r="9.5"/><circle cx="684.9" cy="592.5" r="9.5"/><circle cx="653.6" cy="684.0" r="9.5"/><circle cx="448.4" cy="611.4" r="9.5"/><circle cx="755.6" cy="556.9" r="9.5"/><circle cx="787.9" cy="649.0" r="9.5"/><circle cx="676.1" cy="698.7" r="9.5"/><circle cx="766.9" cy="510.9" r="9.5"/><circle cx="751.2" cy="454.2" r="9.5"/><circle cx="535.7" cy="697.2" r="9.5"/><circle cx="787.2" cy="536.9" r="9.5"/><circle cx="796.2" cy="591.4" r="9.5"/><circle cx="768.2" cy="481.4" r="9.5"/><circle cx="746.5" cy="658.7" r="9.5"/><circle cx="675.9" cy="573.7" r="9.5"/><circle cx="765.4" cy="615.1" r="9.5"/><circle cx="684.6" cy="621.8" r="9.5"/><circle cx="592.0" cy="698.6" r="9.5"/><circle cx="670.8" cy="549.5" r="9.5"/><circle cx="662.9" cy="684.7" r="9.5"/><circle cx="675.4" cy="462.9" r="9.5"/><circle cx="686.3" cy="611.7" r="9.5"/><circle cx="679.0" cy="683.2" r="9.5"/><circle cx="808.6" cy="586.4" r="9.5"/><circle cx="380.8" cy="563.3" r="9.5"/><circle cx="768.2" cy="476.6" r="9.5"/><circle cx="777.3" cy="507.6" r="9.5"/><circle cx="768.4" cy="418.8" r="9.5"/><circle cx="627.0" cy="692.9" r="9.5"/><circle cx="672.9" cy="609.4" r="9.5"/><circle cx="659.6" cy="662.5" r="9.5"/><circle cx="673.8" cy="498.3" r="9.5"/><circle cx="607.6" cy="679.9" r="9.5"/><circle cx="754.2" cy="534.0" r="9.5"/><circle cx="741.5" cy="538.2" r="9.5"/><circle cx="888.5" cy="655.4" r="9.5"/><circle cx="814.8" cy="490.0" r="9.5"/><circle cx="610.0" cy="626.7" r="9.5"/><circle cx="512.8" cy="661.5" r="9.5"/><circle cx="853.0" cy="659.0" r="9.5"/><circle cx="800.4" cy="620.6" r="9.5"/><circle cx="671.2" cy="522.9" r="9.5"/><circle cx="786.7" cy="572.7" r="9.5"/><circle cx="755.6" cy="519.5" r="9.5"/><circle cx="835.0" cy="675.3" r="9.5"/><circle cx="660.3" cy="698.8" r="9.5"/><circle cx="663.1" cy="676.6" r="9.5"/><circle cx="745.9" cy="540.4" r="9.5"/><circle cx="680.6" cy="572.4" r="9.5"/><circle cx="649.2" cy="631.6" r="9.5"/><circle cx="534.1" cy="699.0" r="9.5"/><circle cx="765.9" cy="657.5" r="9.5"/><circle cx="780.8" cy="699.1" r="9.5"/><circle cx="657.5" cy="623.7" r="9.5"/><circle cx="750.8" cy="698.2" r="9.5"/><circle cx="735.1" cy="643.1" r="9.5"/><circle cx="676.9" cy="592.4" r="9.5"/><circle cx="782.7" cy="666.8" r="9.5"/><circle cx="438.5" cy="614.4" r="9.5"/><circle cx="750.6" cy="655.7" r="9.5"/><circle cx="795.0" cy="661.9" r="9.5"/><circle cx="753.6" cy="524.2" r="9.5"/><circle cx="851.1" cy="680.6" r="9.5"/><circle cx="845.2" cy="678.5" r="9.5"/><circle cx="685.7" cy="549.0" r="9.5"/><circle cx="837.1" cy="690.0" r="9.5"/><circle cx="649.6" cy="621.5" r="9.5"/><circle cx="442.7" cy="695.8" r="9.5"/><circle cx="653.4" cy="626.3" r="9.5"/><circle cx="680.6" cy="616.9" r="9.5"/><circle cx="742.6" cy="675.5" r="9.5"/><circle cx="762.7" cy="606.4" r="9.5"/><circle cx="527.9" cy="697.0" r="9.5"/><circle cx="810.2" cy="681.3" r="9.5"/><circle cx="479.6" cy="636.9" r="9.5"/><circle cx="477.0" cy="643.0" r="9.5"/><circle cx="678.8" cy="668.2" r="9.5"/><circle cx="804.6" cy="629.9" r="9.5"/><circle cx="785.7" cy="527.9" r="9.5"/><circle cx="784.2" cy="367.9" r="9.5"/><circle cx="657.9" cy="688.2" r="9.5"/><circle cx="749.2" cy="484.2" r="9.5"/><circle cx="780.7" cy="631.2" r="9.5"/><circle cx="461.5" cy="626.9" r="9.5"/><circle cx="677.1" cy="559.5" r="9.5"/><circle cx="458.4" cy="620.5" r="9.5"/><circle cx="681.5" cy="695.2" r="9.5"/><circle cx="622.5" cy="670.5" r="9.5"/><circle cx="520.0" cy="698.8" r="9.5"/><circle cx="637.3" cy="684.9" r="9.5"/><circle cx="785.5" cy="637.3" r="9.5"/><circle cx="643.2" cy="673.8" r="9.5"/><circle cx="734.8" cy="698.8" r="9.5"/><circle cx="688.4" cy="554.9" r="9.5"/><circle cx="759.5" cy="682.5" r="9.5"/><circle cx="763.1" cy="671.6" r="9.5"/><circle cx="821.0" cy="692.9" r="9.5"/><circle cx="753.7" cy="672.9" r="9.5"/><circle cx="673.1" cy="641.9" r="9.5"/><circle cx="1058.3" cy="676.7" r="9.5"/><circle cx="498.4" cy="643.8" r="9.5"/><circle cx="800.0" cy="532.7" r="9.5"/><circle cx="800.5" cy="644.9" r="9.5"/><circle cx="524.5" cy="663.9" r="9.5"/><circle cx="665.0" cy="409.4" r="9.5"/><circle cx="772.5" cy="677.4" r="9.5"/><circle cx="673.7" cy="684.2" r="9.5"/><circle cx="759.7" cy="553.4" r="9.5"/><circle cx="595.7" cy="698.1" r="9.5"/><circle cx="649.8" cy="676.4" r="9.5"/><circle cx="741.9" cy="578.6" r="9.5"/><circle cx="783.9" cy="646.2" r="9.5"/><circle cx="671.1" cy="604.6" r="9.5"/><circle cx="495.4" cy="697.3" r="9.5"/><circle cx="669.4" cy="583.3" r="9.5"/><circle cx="681.8" cy="615.8" r="9.5"/><circle cx="768.7" cy="556.7" r="9.5"/><circle cx="743.0" cy="698.9" r="9.5"/><circle cx="814.8" cy="472.3" r="9.5"/><circle cx="677.9" cy="649.5" r="9.5"/><circle cx="756.2" cy="666.6" r="9.5"/><circle cx="957.3" cy="556.5" r="9.5"/><circle cx="676.0" cy="535.9" r="9.5"/><circle cx="671.9" cy="655.9" r="9.5"/><circle cx="818.2" cy="663.2" r="9.5"/><circle cx="772.8" cy="623.7" r="9.5"/><circle cx="545.8" cy="698.7" r="9.5"/><circle cx="780.0" cy="580.1" r="9.5"/><circle cx="772.9" cy="495.7" r="9.5"/><circle cx="882.0" cy="658.5" r="9.5"/><circle cx="771.8" cy="552.7" r="9.5"/><circle cx="769.4" cy="546.3" r="9.5"/><circle cx="796.3" cy="674.0" r="9.5"/><circle cx="638.2" cy="691.3" r="9.5"/><circle cx="744.5" cy="595.6" r="9.5"/><circle cx="659.2" cy="384.8" r="9.5"/><circle cx="412.5" cy="692.0" r="9.5"/><circle cx="756.3" cy="592.1" r="9.5"/><circle cx="605.9" cy="683.6" r="9.5"/><circle cx="794.7" cy="582.9" r="9.5"/><circle cx="590.0" cy="698.6" r="9.5"/><circle cx="679.6" cy="628.6" r="9.5"/><circle cx="647.2" cy="659.0" r="9.5"/><circle cx="687.0" cy="656.9" r="9.5"/><circle cx="799.9" cy="584.2" r="9.5"/><circle cx="779.9" cy="367.8" r="9.5"/><circle cx="606.7" cy="638.0" r="9.5"/><circle cx="811.2" cy="639.6" r="9.5"/><circle cx="504.6" cy="645.5" r="9.5"/><circle cx="825.9" cy="686.2" r="9.5"/><circle cx="450.8" cy="609.9" r="9.5"/><circle cx="506.8" cy="650.9" r="9.5"/><circle cx="511.2" cy="661.6" r="9.5"/><circle cx="765.7" cy="696.9" r="9.5"/><circle cx="777.8" cy="575.9" r="9.5"/><circle cx="765.1" cy="698.1" r="9.5"/><circle cx="645.8" cy="654.2" r="9.5"/><circle cx="733.7" cy="605.9" r="9.5"/><circle cx="891.7" cy="653.3" r="9.5"/><circle cx="863.5" cy="646.0" r="9.5"/><circle cx="519.1" cy="656.8" r="9.5"/><circle cx="688.3" cy="398.3" r="9.5"/><circle cx="474.0" cy="625.6" r="9.5"/><circle cx="464.0" cy="618.6" r="9.5"/><circle cx="781.6" cy="610.8" r="9.5"/><circle cx="672.3" cy="446.3" r="9.5"/><circle cx="484.0" cy="632.4" r="9.5"/><circle cx="821.8" cy="686.9" r="9.5"/><circle cx="480.0" cy="696.5" r="9.5"/><circle cx="772.7" cy="645.0" r="9.5"/><circle cx="689.7" cy="595.0" r="9.5"/><circle cx="754.9" cy="612.2" r="9.5"/><circle cx="675.0" cy="400.4" r="9.5"/><circle cx="754.4" cy="458.3" r="9.5"/><circle cx="454.5" cy="624.2" r="9.5"/><circle cx="750.5" cy="516.1" r="9.5"/><circle cx="397.5" cy="571.9" r="9.5"/><circle cx="656.1" cy="698.2" r="9.5"/><circle cx="624.1" cy="677.3" r="9.5"/><circle cx="682.4" cy="556.1" r="9.5"/><circle cx="795.0" cy="367.7" r="9.5"/><circle cx="791.4" cy="614.8" r="9.5"/><circle cx="762.3" cy="607.8" r="9.5"/><circle cx="826.0" cy="673.7" r="9.5"/><circle cx="765.4" cy="487.5" r="9.5"/><circle cx="793.4" cy="374.5" r="9.5"/><circle cx="745.7" cy="576.5" r="9.5"/><circle cx="445.8" cy="626.5" r="9.5"/><circle cx="737.0" cy="692.2" r="9.5"/><circle cx="684.2" cy="698.3" r="9.5"/><circle cx="776.2" cy="698.3" r="9.5"/><circle cx="736.6" cy="543.4" r="9.5"/><circle cx="787.1" cy="503.0" r="9.5"/><circle cx="782.1" cy="547.2" r="9.5"/><circle cx="840.5" cy="648.0" r="9.5"/><circle cx="577.0" cy="669.0" r="9.5"/><circle cx="805.1" cy="630.9" r="9.5"/><circle cx="683.8" cy="559.2" r="9.5"/><circle cx="751.0" cy="490.0" r="9.5"/><circle cx="762.3" cy="579.3" r="9.5"/><circle cx="773.6" cy="654.8" r="9.5"/><circle cx="870.7" cy="669.0" r="9.5"/><circle cx="425.0" cy="693.0" r="9.5"/><circle cx="744.7" cy="698.4" r="9.5"/><circle cx="657.7" cy="646.0" r="9.5"/><circle cx="651.4" cy="640.3" r="9.5"/><circle cx="800.8" cy="655.8" r="9.5"/><circle cx="659.6" cy="619.6" r="9.5"/><circle cx="433.3" cy="693.8" r="9.5"/><circle cx="767.5" cy="651.6" r="9.5"/><circle cx="781.1" cy="674.8" r="9.5"/><circle cx="752.7" cy="628.6" r="9.5"/><circle cx="774.9" cy="625.6" r="9.5"/><circle cx="909.8" cy="663.3" r="9.5"/><circle cx="811.6" cy="367.8" r="9.5"/><circle cx="292.6" cy="479.4" r="9.5"/><circle cx="642.3" cy="681.3" r="9.5"/><circle cx="775.7" cy="597.6" r="9.5"/><circle cx="538.9" cy="698.2" r="9.5"/><circle cx="344.8" cy="688.5" r="9.5"/><circle cx="644.6" cy="697.0" r="9.5"/><circle cx="632.0" cy="662.8" r="9.5"/><circle cx="515.3" cy="653.7" r="9.5"/><circle cx="759.3" cy="636.3" r="9.5"/><circle cx="804.7" cy="668.6" r="9.5"/><circle cx="481.5" cy="697.4" r="9.5"/><circle cx="618.5" cy="685.5" r="9.5"/><circle cx="750.2" cy="572.8" r="9.5"/><circle cx="437.5" cy="613.7" r="9.5"/><circle cx="486.2" cy="697.3" r="9.5"/><circle cx="781.8" cy="669.1" r="9.5"/><circle cx="644.4" cy="665.5" r="9.5"/><circle cx="790.5" cy="645.3" r="9.5"/><circle cx="740.6" cy="699.1" r="9.5"/><circle cx="801.0" cy="478.5" r="9.5"/><circle cx="781.3" cy="697.2" r="9.5"/><circle cx="683.6" cy="593.5" r="9.5"/><circle cx="623.4" cy="660.3" r="9.5"/><circle cx="476.8" cy="632.3" r="9.5"/><circle cx="847.0" cy="684.7" r="9.5"/><circle cx="764.5" cy="629.2" r="9.5"/><circle cx="844.7" cy="684.4" r="9.5"/><circle cx="798.3" cy="686.8" r="9.5"/><circle cx="624.5" cy="698.2" r="9.5"/><circle cx="491.6" cy="638.6" r="9.5"/><circle cx="628.9" cy="645.1" r="9.5"/><circle cx="796.5" cy="567.8" r="9.5"/><circle cx="761.8" cy="482.1" r="9.5"/><circle cx="631.3" cy="651.8" r="9.5"/><circle cx="739.1" cy="599.0" r="9.5"/><circle cx="662.4" cy="602.6" r="9.5"/><circle cx="529.1" cy="661.6" r="9.5"/><circle cx="473.0" cy="695.2" r="9.5"/><circle cx="784.0" cy="592.1" r="9.5"/><circle cx="821.2" cy="656.4" r="9.5"/><circle cx="886.0" cy="657.0" r="9.5"/><circle cx="452.8" cy="615.7" r="9.5"/><circle cx="687.1" cy="693.0" r="9.5"/><circle cx="471.5" cy="633.8" r="9.5"/><circle cx="602.7" cy="695.5" r="9.5"/><circle cx="540.4" cy="698.7" r="9.5"/><circle cx="649.1" cy="645.6" r="9.5"/><circle cx="635.8" cy="421.3" r="9.5"/><circle cx="771.3" cy="698.3" r="9.5"/><circle cx="767.6" cy="528.1" r="9.5"/><circle cx="829.1" cy="663.3" r="9.5"/><circle cx="765.5" cy="663.6" r="9.5"/><circle cx="685.0" cy="568.6" r="9.5"/><circle cx="532.6" cy="698.5" r="9.5"/><circle cx="863.9" cy="672.8" r="9.5"/><circle cx="744.8" cy="581.4" r="9.5"/><circle cx="612.4" cy="699.1" r="9.5"/><circle cx="630.5" cy="693.5" r="9.5"/><circle cx="840.2" cy="688.0" r="9.5"/><circle cx="765.0" cy="567.5" r="9.5"/><circle cx="848.5" cy="651.0" r="9.5"/><circle cx="637.7" cy="698.6" r="9.5"/><circle cx="745.6" cy="610.7" r="9.5"/><circle cx="755.7" cy="643.2" r="9.5"/><circle cx="838.0" cy="669.2" r="9.5"/><circle cx="676.4" cy="545.0" r="9.5"/><circle cx="740.7" cy="610.8" r="9.5"/><circle cx="783.7" cy="564.3" r="9.5"/><circle cx="802.2" cy="587.8" r="9.5"/><circle cx="677.5" cy="447.3" r="9.5"/><circle cx="812.8" cy="648.5" r="9.5"/><circle cx="796.2" cy="572.7" r="9.5"/><circle cx="516.0" cy="665.5" r="9.5"/><circle cx="789.0" cy="637.1" r="9.5"/><circle cx="750.6" cy="631.7" r="9.5"/><circle cx="676.5" cy="477.5" r="9.5"/><circle cx="512.3" cy="697.3" r="9.5"/><circle cx="874.6" cy="664.8" r="9.5"/><circle cx="761.9" cy="559.4" r="9.5"/><circle cx="782.5" cy="450.0" r="9.5"/><circle cx="641.3" cy="665.4" r="9.5"/><circle cx="748.8" cy="663.0" r="9.5"/><circle cx="800.6" cy="673.9" r="9.5"/><circle cx="502.4" cy="651.0" r="9.5"/><circle cx="885.8" cy="675.2" r="9.5"/><circle cx="514.1" cy="653.2" r="9.5"/><circle cx="765.4" cy="499.2" r="9.5"/><circle cx="805.0" cy="656.5" r="9.5"/><circle cx="772.0" cy="367.7" r="9.5"/><circle cx="868.4" cy="669.3" r="9.5"/><circle cx="762.1" cy="659.8" r="9.5"/><circle cx="779.4" cy="648.4" r="9.5"/><circle cx="753.4" cy="653.9" r="9.5"/><circle cx="677.7" cy="658.9" r="9.5"/><circle cx="740.0" cy="683.1" r="9.5"/><circle cx="626.0" cy="678.5" r="9.5"/><circle cx="760.4" cy="560.3" r="9.5"/><circle cx="814.0" cy="655.4" r="9.5"/><circle cx="651.1" cy="696.6" r="9.5"/><circle cx="776.5" cy="638.4" r="9.5"/><circle cx="756.5" cy="506.1" r="9.5"/><circle cx="671.0" cy="651.2" r="9.5"/><circle cx="820.5" cy="663.1" r="9.5"/><circle cx="747.9" cy="658.7" r="9.5"/><circle cx="765.6" cy="389.0" r="9.5"/><circle cx="678.0" cy="593.0" r="9.5"/><circle cx="497.7" cy="642.7" r="9.5"/><circle cx="789.0" cy="367.4" r="9.5"/><circle cx="460.9" cy="621.2" r="9.5"/><circle cx="761.9" cy="621.6" r="9.5"/><circle cx="737.4" cy="611.6" r="9.5"/><circle cx="793.6" cy="693.9" r="9.5"/><circle cx="767.4" cy="697.2" r="9.5"/><circle cx="733.7" cy="605.2" r="9.5"/><circle cx="778.1" cy="660.9" r="9.5"/><circle cx="439.6" cy="623.3" r="9.5"/><circle cx="793.5" cy="668.4" r="9.5"/><circle cx="638.1" cy="663.6" r="9.5"/><circle cx="808.5" cy="658.6" r="9.5"/><circle cx="664.5" cy="680.6" r="9.5"/><circle cx="675.2" cy="633.2" r="9.5"/><circle cx="861.8" cy="676.2" r="9.5"/><circle cx="776.7" cy="698.2" r="9.5"/><circle cx="656.7" cy="641.2" r="9.5"/><circle cx="687.1" cy="581.3" r="9.5"/><circle cx="778.8" cy="496.6" r="9.5"/><circle cx="810.1" cy="670.0" r="9.5"/><circle cx="828.2" cy="687.4" r="9.5"/><circle cx="622.5" cy="682.3" r="9.5"/><circle cx="686.9" cy="531.2" r="9.5"/><circle cx="489.2" cy="696.5" r="9.5"/><circle cx="739.1" cy="585.0" r="9.5"/><circle cx="496.1" cy="649.5" r="9.5"/><circle cx="736.0" cy="684.4" r="9.5"/><circle cx="442.5" cy="613.2" r="9.5"/><circle cx="668.6" cy="582.2" r="9.5"/><circle cx="766.6" cy="683.3" r="9.5"/><circle cx="761.3" cy="479.4" r="9.5"/><circle cx="780.7" cy="367.7" r="9.5"/><circle cx="496.9" cy="698.0" r="9.5"/><circle cx="786.1" cy="693.9" r="9.5"/><circle cx="756.2" cy="688.4" r="9.5"/><circle cx="775.2" cy="530.2" r="9.5"/><circle cx="768.8" cy="503.1" r="9.5"/><circle cx="739.2" cy="649.9" r="9.5"/><circle cx="491.6" cy="649.7" r="9.5"/><circle cx="671.8" cy="563.7" r="9.5"/><circle cx="767.4" cy="637.1" r="9.5"/><circle cx="744.9" cy="661.7" r="9.5"/><circle cx="809.4" cy="644.6" r="9.5"/><circle cx="774.2" cy="555.9" r="9.5"/><circle cx="796.7" cy="586.7" r="9.5"/><circle cx="515.4" cy="696.9" r="9.5"/><circle cx="751.7" cy="643.5" r="9.5"/><circle cx="821.8" cy="644.4" r="9.5"/><circle cx="780.1" cy="684.9" r="9.5"/><circle cx="739.1" cy="531.7" r="9.5"/><circle cx="776.6" cy="671.5" r="9.5"/><circle cx="670.1" cy="615.2" r="9.5"/><circle cx="820.5" cy="685.3" r="9.5"/><circle cx="800.5" cy="594.2" r="9.5"/><circle cx="788.3" cy="367.8" r="9.5"/><circle cx="617.5" cy="464.6" r="9.5"/><circle cx="484.7" cy="642.5" r="9.5"/><circle cx="779.6" cy="641.1" r="9.5"/><circle cx="658.1" cy="698.4" r="9.5"/><circle cx="788.7" cy="579.6" r="9.5"/><circle cx="678.1" cy="611.0" r="9.5"/><circle cx="790.7" cy="545.4" r="9.5"/><circle cx="491.4" cy="641.1" r="9.5"/><circle cx="785.8" cy="606.2" r="9.5"/><circle cx="458.3" cy="694.6" r="9.5"/><circle cx="677.2" cy="640.8" r="9.5"/><circle cx="778.1" cy="629.9" r="9.5"/><circle cx="626.1" cy="663.7" r="9.5"/><circle cx="790.1" cy="692.0" r="9.5"/><circle cx="785.1" cy="584.6" r="9.5"/><circle cx="769.0" cy="367.7" r="9.5"/><circle cx="772.5" cy="616.4" r="9.5"/><circle cx="772.3" cy="696.2" r="9.5"/><circle cx="481.9" cy="631.2" r="9.5"/><circle cx="787.7" cy="673.0" r="9.5"/><circle cx="471.8" cy="624.4" r="9.5"/><circle cx="833.5" cy="428.1" r="9.5"/><circle cx="789.3" cy="679.7" r="9.5"/><circle cx="743.0" cy="539.5" r="9.5"/><circle cx="601.8" cy="698.3" r="9.5"/><circle cx="774.4" cy="667.0" r="9.5"/><circle cx="620.7" cy="654.7" r="9.5"/><circle cx="754.2" cy="677.0" r="9.5"/><circle cx="822.9" cy="396.4" r="9.5"/><circle cx="755.5" cy="534.5" r="9.5"/><circle cx="741.4" cy="690.4" r="9.5"/><circle cx="773.9" cy="589.0" r="9.5"/><circle cx="753.5" cy="476.4" r="9.5"/><circle cx="744.9" cy="556.7" r="9.5"/><circle cx="829.1" cy="671.8" r="9.5"/><circle cx="775.5" cy="699.1" r="9.5"/><circle cx="458.4" cy="613.9" r="9.5"/><circle cx="629.8" cy="664.0" r="9.5"/><circle cx="620.8" cy="697.6" r="9.5"/><circle cx="754.2" cy="663.0" r="9.5"/><circle cx="743.0" cy="653.9" r="9.5"/><circle cx="772.0" cy="526.6" r="9.5"/><circle cx="517.7" cy="656.7" r="9.5"/><circle cx="767.4" cy="591.5" r="9.5"/><circle cx="791.4" cy="605.8" r="9.5"/><circle cx="758.0" cy="515.2" r="9.5"/><circle cx="767.6" cy="540.8" r="9.5"/><circle cx="733.0" cy="636.5" r="9.5"/><circle cx="845.6" cy="667.8" r="9.5"/><circle cx="792.4" cy="649.2" r="9.5"/><circle cx="837.6" cy="677.9" r="9.5"/><circle cx="769.6" cy="574.0" r="9.5"/><circle cx="732.6" cy="698.3" r="9.5"/><circle cx="834.8" cy="691.9" r="9.5"/><circle cx="763.2" cy="541.2" r="9.5"/><circle cx="492.3" cy="696.3" r="9.5"/><circle cx="805.4" cy="639.4" r="9.5"/><circle cx="795.8" cy="608.5" r="9.5"/><circle cx="754.5" cy="573.3" r="9.5"/><circle cx="768.5" cy="698.4" r="9.5"/><circle cx="768.9" cy="566.3" r="9.5"/><circle cx="641.3" cy="670.2" r="9.5"/><circle cx="664.7" cy="636.8" r="9.5"/><circle cx="815.0" cy="641.0" r="9.5"/><circle cx="570.0" cy="681.7" r="9.5"/><circle cx="433.4" cy="602.4" r="9.5"/><circle cx="620.6" cy="692.3" r="9.5"/><circle cx="745.0" cy="507.4" r="9.5"/><circle cx="780.3" cy="523.4" r="9.5"/><circle cx="749.2" cy="698.7" r="9.5"/><circle cx="817.1" cy="687.6" r="9.5"/><circle cx="410.4" cy="591.5" r="9.5"/><circle cx="769.5" cy="522.1" r="9.5"/><circle cx="771.7" cy="630.8" r="9.5"/><circle cx="845.8" cy="644.0" r="9.5"/><circle cx="657.8" cy="608.7" r="9.5"/><circle cx="672.3" cy="474.4" r="9.5"/><circle cx="779.4" cy="616.1" r="9.5"/><circle cx="780.7" cy="514.5" r="9.5"/><circle cx="790.7" cy="656.2" r="9.5"/><circle cx="1021.5" cy="686.0" r="9.5"/><circle cx="791.4" cy="678.9" r="9.5"/><circle cx="766.9" cy="367.7" r="9.5"/><circle cx="663.5" cy="698.9" r="9.5"/><circle cx="759.8" cy="536.1" r="9.5"/><circle cx="752.7" cy="631.9" r="9.5"/><circle cx="828.5" cy="689.7" r="9.5"/><circle cx="430.2" cy="693.5" r="9.5"/><circle cx="741.1" cy="620.8" r="9.5"/><circle cx="434.9" cy="604.7" r="9.5"/><circle cx="684.9" cy="668.6" r="9.5"/><circle cx="783.0" cy="367.6" r="9.5"/><circle cx="519.4" cy="667.0" r="9.5"/><circle cx="739.4" cy="553.7" r="9.5"/><circle cx="791.9" cy="513.0" r="9.5"/><circle cx="776.4" cy="563.2" r="9.5"/><circle cx="782.5" cy="468.8" r="9.5"/><circle cx="735.4" cy="661.7" r="9.5"/><circle cx="765.2" cy="553.2" r="9.5"/><circle cx="780.3" cy="599.2" r="9.5"/><circle cx="678.6" cy="578.5" r="9.5"/><circle cx="332.3" cy="687.5" r="9.5"/><circle cx="766.4" cy="640.9" r="9.5"/><circle cx="827.6" cy="656.8" r="9.5"/><circle cx="606.2" cy="698.8" r="9.5"/><circle cx="476.5" cy="628.3" r="9.5"/><circle cx="633.6" cy="666.3" r="9.5"/><circle cx="764.3" cy="615.8" r="9.5"/><circle cx="765.7" cy="568.8" r="9.5"/><circle cx="823.5" cy="650.6" r="9.5"/><circle cx="671.4" cy="678.6" r="9.5"/><circle cx="737.2" cy="698.6" r="9.5"/><circle cx="486.2" cy="644.6" r="9.5"/><circle cx="493.9" cy="696.7" r="9.5"/><circle cx="783.1" cy="613.2" r="9.5"/><circle cx="639.2" cy="657.9" r="9.5"/><circle cx="758.1" cy="619.4" r="9.5"/><circle cx="636.4" cy="647.3" r="9.5"/><circle cx="733.4" cy="577.8" r="9.5"/><circle cx="790.3" cy="630.8" r="9.5"/><circle cx="752.8" cy="698.9" r="9.5"/><circle cx="486.1" cy="635.9" r="9.5"/><circle cx="804.0" cy="654.1" r="9.5"/><circle cx="867.3" cy="489.2" r="9.5"/><circle cx="786.0" cy="677.5" r="9.5"/><circle cx="783.4" cy="653.7" r="9.5"/><circle cx="821.0" cy="645.8" r="9.5"/><circle cx="671.8" cy="542.4" r="9.5"/><circle cx="527.7" cy="661.6" r="9.5"/><circle cx="609.9" cy="698.7" r="9.5"/><circle cx="546.0" cy="694.0" r="9.5"/><circle cx="664.8" cy="651.9" r="9.5"/><circle cx="748.1" cy="654.1" r="9.5"/><circle cx="762.9" cy="546.8" r="9.5"/><circle cx="745.2" cy="625.7" r="9.5"/><circle cx="763.5" cy="647.5" r="9.5"/><circle cx="475.1" cy="632.8" r="9.5"/><circle cx="683.6" cy="649.6" r="9.5"/><circle cx="836.4" cy="663.2" r="9.5"/><circle cx="610.9" cy="693.0" r="9.5"/><circle cx="675.4" cy="427.9" r="9.5"/><circle cx="813.4" cy="637.7" r="9.5"/><circle cx="745.9" cy="624.7" r="9.5"/><circle cx="781.5" cy="441.7" r="9.5"/><circle cx="817.2" cy="656.5" r="9.5"/><circle cx="749.2" cy="572.8" r="9.5"/><circle cx="765.8" cy="428.1" r="9.5"/><circle cx="671.4" cy="667.9" r="9.5"/><circle cx="790.5" cy="616.2" r="9.5"/><circle cx="664.2" cy="629.3" r="9.5"/><circle cx="795.9" cy="573.6" r="9.5"/><circle cx="736.3" cy="634.7" r="9.5"/><circle cx="736.2" cy="660.0" r="9.5"/><circle cx="668.1" cy="494.2" r="9.5"/><circle cx="439.3" cy="607.1" r="9.5"/><circle cx="504.3" cy="652.5" r="9.5"/><circle cx="790.3" cy="568.0" r="9.5"/><circle cx="526.3" cy="697.2" r="9.5"/><circle cx="733.2" cy="688.8" r="9.5"/><circle cx="735.7" cy="696.8" r="9.5"/><circle cx="674.8" cy="530.1" r="9.5"/><circle cx="820.6" cy="636.4" r="9.5"/><circle cx="781.1" cy="693.7" r="9.5"/><circle cx="637.8" cy="678.0" r="9.5"/><circle cx="793.1" cy="596.0" r="9.5"/><circle cx="747.1" cy="531.1" r="9.5"/><circle cx="594.3" cy="699.0" r="9.5"/><circle cx="667.4" cy="599.3" r="9.5"/><circle cx="758.5" cy="698.9" r="9.5"/><circle cx="523.9" cy="671.3" r="9.5"/><circle cx="608.2" cy="698.6" r="9.5"/><circle cx="661.1" cy="649.6" r="9.5"/><circle cx="805.8" cy="567.5" r="9.5"/><circle cx="623.4" cy="687.9" r="9.5"/><circle cx="672.9" cy="552.2" r="9.5"/><circle cx="788.8" cy="466.7" r="9.5"/><circle cx="771.7" cy="579.2" r="9.5"/><circle cx="823.8" cy="693.1" r="9.5"/><circle cx="672.6" cy="646.3" r="9.5"/><circle cx="817.2" cy="653.5" r="9.5"/><circle cx="608.6" cy="690.2" r="9.5"/><circle cx="611.7" cy="658.0" r="9.5"/><circle cx="659.3" cy="650.7" r="9.5"/><circle cx="516.4" cy="662.8" r="9.5"/><circle cx="484.6" cy="697.7" r="9.5"/><circle cx="766.5" cy="610.2" r="9.5"/><circle cx="763.4" cy="678.5" r="9.5"/><circle cx="766.0" cy="673.0" r="9.5"/><circle cx="643.3" cy="686.9" r="9.5"/><circle cx="669.7" cy="625.3" r="9.5"/><circle cx="788.8" cy="464.0" r="9.5"/><circle cx="785.6" cy="397.9" r="9.5"/><circle cx="679.6" cy="479.6" r="9.5"/><circle cx="649.3" cy="649.7" r="9.5"/><circle cx="518.0" cy="667.0" r="9.5"/><circle cx="643.0" cy="691.2" r="9.5"/><circle cx="773.9" cy="611.2" r="9.5"/><circle cx="777.0" cy="625.5" r="9.5"/><circle cx="773.9" cy="604.7" r="9.5"/><circle cx="434.3" cy="597.1" r="9.5"/><circle cx="627.7" cy="672.0" r="9.5"/><circle cx="782.5" cy="432.3" r="9.5"/><circle cx="812.0" cy="634.0" r="9.5"/><circle cx="458.0" cy="616.6" r="9.5"/><circle cx="788.6" cy="629.6" r="9.5"/><circle cx="848.5" cy="678.9" r="9.5"/><circle cx="809.2" cy="624.1" r="9.5"/><circle cx="752.7" cy="547.8" r="9.5"/><circle cx="752.8" cy="681.1" r="9.5"/><circle cx="523.1" cy="698.3" r="9.5"/><circle cx="775.4" cy="517.8" r="9.5"/><circle cx="524.7" cy="698.1" r="9.5"/><circle cx="647.5" cy="698.3" r="9.5"/><circle cx="436.8" cy="608.3" r="9.5"/><circle cx="673.1" cy="696.6" r="9.5"/><circle cx="772.1" cy="488.1" r="9.5"/><circle cx="841.5" cy="676.4" r="9.5"/><circle cx="660.6" cy="673.9" r="9.5"/><circle cx="735.5" cy="667.7" r="9.5"/><circle cx="757.4" cy="539.0" r="9.5"/><circle cx="496.4" cy="640.2" r="9.5"/><circle cx="847.9" cy="685.0" r="9.5"/><circle cx="662.9" cy="679.6" r="9.5"/><circle cx="780.7" cy="667.6" r="9.5"/><circle cx="672.1" cy="574.7" r="9.5"/><circle cx="752.9" cy="589.4" r="9.5"/><circle cx="630.0" cy="640.0" r="9.5"/><circle cx="431.2" cy="597.1" r="9.5"/><circle cx="661.1" cy="622.2" r="9.5"/><circle cx="759.1" cy="658.9" r="9.5"/><circle cx="760.6" cy="600.3" r="9.5"/><circle cx="816.5" cy="671.0" r="9.5"/></g>
<g class="b"><circle cx="693.1" cy="526.9" r="9.5"/><circle cx="691.5" cy="615.0" r="9.5"/><circle cx="690.9" cy="633.0" r="9.5"/><circle cx="691.8" cy="658.0" r="9.5"/><circle cx="695.0" cy="660.0" r="9.5"/><circle cx="692.0" cy="684.0" r="9.5"/><circle cx="692.5" cy="548.0" r="9.5"/><circle cx="729.6" cy="609.6" r="9.5"/><circle cx="731.5" cy="640.0" r="9.5"/><circle cx="732.0" cy="655.0" r="9.5"/><circle cx="730.5" cy="672.0" r="9.5"/><circle cx="731.8" cy="688.0" r="9.5"/></g>
<g class="g"><circle cx="676.7" cy="699.6" r="9.5"/><circle cx="681.7" cy="700.2" r="9.5"/><circle cx="735.0" cy="699.6" r="9.5"/></g>
<g class="n"><circle cx="710.0" cy="700.0" r="9.5"/><circle cx="710.6" cy="700.3" r="9.5"/><circle cx="711.1" cy="700.3" r="9.5"/><circle cx="711.7" cy="700.2" r="9.5"/><circle cx="712.3" cy="700.1" r="9.5"/><circle cx="712.9" cy="700.3" r="9.5"/><circle cx="713.4" cy="700.0" r="9.5"/><circle cx="714.0" cy="700.4" r="9.5"/></g>
<g class="b"><circle cx="702.0" cy="694.5" r="9.5"/><circle cx="723.0" cy="694.5" r="9.5"/><circle cx="699.0" cy="691.0" r="9.5"/><circle cx="726.0" cy="691.0" r="9.5"/></g>

<!-- threshold lines -->
<g stroke="#000" stroke-width="2.3" stroke-dasharray="18.67 8" fill="none">
<line x1="211.2" y1="699.2" x2="1312" y2="699.2"/>
<line x1="690.7" y1="717.8" x2="690.7" y2="345"/>
<line x1="732.5" y1="717.8" x2="732.5" y2="345"/>
</g>
<!-- axes -->
<g stroke="#000" stroke-width="4.55" fill="none">
<line x1="211.2" y1="345.2" x2="211.2" y2="717.3"/>
<line x1="211.2" y1="717.3" x2="1312.1" y2="717.3"/>
</g>
<g stroke="#2e2e2e" stroke-width="6.2" fill="none">
<line x1="195.1" y1="368.5" x2="211.2" y2="368.5"/>
<line x1="195.1" y1="479.2" x2="211.2" y2="479.2"/>
<line x1="195.1" y1="589.8" x2="211.2" y2="589.8"/>
<line x1="195.1" y1="700.5" x2="211.2" y2="700.5"/>
<line x1="293.9" y1="717.3" x2="293.9" y2="733.3"/>
<line x1="502.7" y1="717.3" x2="502.7" y2="733.3"/>
<line x1="711.6" y1="717.3" x2="711.6" y2="733.3"/>
<line x1="920.4" y1="717.3" x2="920.4" y2="733.3"/>
<line x1="1129.3" y1="717.3" x2="1129.3" y2="733.3"/>
</g>
<g class="ax" text-anchor="end">
<text transform="translate(181,386.7) scale(0.99,1.046)">300</text>
<text transform="translate(181,497.4) scale(0.99,1.046)">200</text>
<text transform="translate(181,608.0) scale(0.99,1.046)">100</text>
<text transform="translate(181,718.7) scale(0.99,1.046)">0</text>
</g>
<g class="ax" text-anchor="middle">
<text transform="translate(292.9,781.7) scale(0.99,1.046)">-20</text>
<text transform="translate(501.7,781.7) scale(0.99,1.046)">-10</text>
<text transform="translate(711.6,781.7) scale(0.99,1.046)">0</text>
<text transform="translate(920.4,781.7) scale(0.99,1.046)">10</text>
<text transform="translate(1129.3,781.7) scale(0.99,1.046)">20</text>
</g>
<text transform="translate(0,842.4) scale(1,1.015)" font-size="48" fill="#000"><tspan x="587.3">Log</tspan><tspan font-size="33.6" dy="8.5">2</tspan><tspan dy="-8.5" x="697.6">fold change</tspan></text>
<text transform="translate(66,622.7) rotate(-90) scale(1,1.015)" font-size="48" fill="#000"><tspan x="-1.5" dy="4">−</tspan><tspan x="32.2" dy="-4">Log</tspan><tspan font-size="33.6" dy="10">10</tspan><tspan dy="-10"> </tspan><tspan font-style="italic">P</tspan></text>
<text transform="translate(1311.5,920.9)" font-size="37.3" fill="#000" text-anchor="end">total = 15161 variables</text>
</svg>
</body></html>
